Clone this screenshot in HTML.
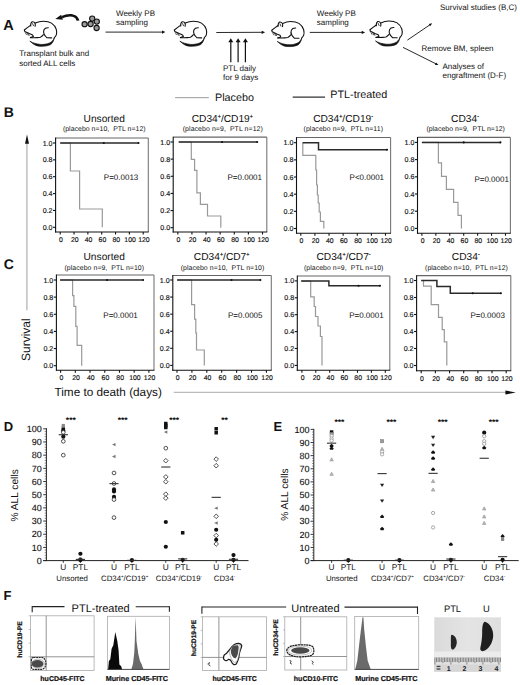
<!DOCTYPE html>
<html><head><meta charset="utf-8"><style>
html,body{margin:0;padding:0;background:#fff;}
svg{display:block;font-family:"Liberation Sans", sans-serif;text-rendering:geometricPrecision;}

</style></head><body>
<svg width="520" height="685" viewBox="0 0 520 685" xml:space="preserve">
<rect width="520" height="685" fill="#fff"/>
<g transform="translate(20 18) scale(1)" fill="none" stroke="#111" stroke-width="1.1" stroke-linecap="round" stroke-linejoin="round">
<path d="M15.3 5.1 C18 3.8 20.5 3.2 23.2 3.2 C27 3.2 29.5 3.8 31.5 5.1 C34 6.8 35.6 8.8 36.2 11.2 C36.8 13.5 36.8 15.5 36.4 16.6 C35.9 18 35.2 18.8 34.3 19.6"/>
<path d="M10.4 7.4 L7.4 9.6 L4.3 12 L4.8 13.4 L7 14.4 L9.3 15.6 L12.6 17 L13.4 18.6 L10.4 19.6"/>
<path d="M10.7 8 C10.6 6 11.2 4.2 12.2 3.7 C13.4 3.6 14.6 4.3 15 5.3 C15.4 6.3 15.4 7.4 15.1 8.3"/>
<path d="M12.6 5.6 L13.5 7.8" stroke-width="0.8"/>
<path d="M5.4 14.8 L6.4 16.6 M7.2 15.2 L8.2 17.2 M8.6 15.8 L9.2 17.4" stroke-width="0.7"/>
<path d="M10.4 19.6 C14 19.8 18 19.6 20.4 19.2 C21.8 18.6 22.6 17.6 23.4 16.6"/>
<path d="M28.3 9.7 C26.2 9.6 24.6 10.4 24 11.8 C23.3 13.4 23.4 15.2 24.3 16.6 C25 17.8 25.9 18.6 26.9 19.8 L31.6 19.9"/>
<path d="M10.2 23.4 C13.5 26.6 16.5 28 19.5 28.2 C24 28.6 28 27.8 30.6 26.6 C32.6 25.2 33.8 22.6 34.4 19.6 C33.2 22.4 31.8 24 29.6 25 C26.5 26.3 23.5 26.6 20.4 26.4 C16.5 26 13.5 25.2 10.2 23.4 Z" fill="#111" stroke-width="0.7"/>
</g>
<g transform="translate(170 18) scale(1)" fill="none" stroke="#111" stroke-width="1.1" stroke-linecap="round" stroke-linejoin="round">
<path d="M15.3 5.1 C18 3.8 20.5 3.2 23.2 3.2 C27 3.2 29.5 3.8 31.5 5.1 C34 6.8 35.6 8.8 36.2 11.2 C36.8 13.5 36.8 15.5 36.4 16.6 C35.9 18 35.2 18.8 34.3 19.6"/>
<path d="M10.4 7.4 L7.4 9.6 L4.3 12 L4.8 13.4 L7 14.4 L9.3 15.6 L12.6 17 L13.4 18.6 L10.4 19.6"/>
<path d="M10.7 8 C10.6 6 11.2 4.2 12.2 3.7 C13.4 3.6 14.6 4.3 15 5.3 C15.4 6.3 15.4 7.4 15.1 8.3"/>
<path d="M12.6 5.6 L13.5 7.8" stroke-width="0.8"/>
<path d="M5.4 14.8 L6.4 16.6 M7.2 15.2 L8.2 17.2 M8.6 15.8 L9.2 17.4" stroke-width="0.7"/>
<path d="M10.4 19.6 C14 19.8 18 19.6 20.4 19.2 C21.8 18.6 22.6 17.6 23.4 16.6"/>
<path d="M28.3 9.7 C26.2 9.6 24.6 10.4 24 11.8 C23.3 13.4 23.4 15.2 24.3 16.6 C25 17.8 25.9 18.6 26.9 19.8 L31.6 19.9"/>
<path d="M10.2 23.4 C13.5 26.6 16.5 28 19.5 28.2 C24 28.6 28 27.8 30.6 26.6 C32.6 25.2 33.8 22.6 34.4 19.6 C33.2 22.4 31.8 24 29.6 25 C26.5 26.3 23.5 26.6 20.4 26.4 C16.5 26 13.5 25.2 10.2 23.4 Z" fill="#111" stroke-width="0.7"/>
</g>
<g transform="translate(267.4 18.3) scale(1)" fill="none" stroke="#111" stroke-width="1.1" stroke-linecap="round" stroke-linejoin="round">
<path d="M15.3 5.1 C18 3.8 20.5 3.2 23.2 3.2 C27 3.2 29.5 3.8 31.5 5.1 C34 6.8 35.6 8.8 36.2 11.2 C36.8 13.5 36.8 15.5 36.4 16.6 C35.9 18 35.2 18.8 34.3 19.6"/>
<path d="M10.4 7.4 L7.4 9.6 L4.3 12 L4.8 13.4 L7 14.4 L9.3 15.6 L12.6 17 L13.4 18.6 L10.4 19.6"/>
<path d="M10.7 8 C10.6 6 11.2 4.2 12.2 3.7 C13.4 3.6 14.6 4.3 15 5.3 C15.4 6.3 15.4 7.4 15.1 8.3"/>
<path d="M12.6 5.6 L13.5 7.8" stroke-width="0.8"/>
<path d="M5.4 14.8 L6.4 16.6 M7.2 15.2 L8.2 17.2 M8.6 15.8 L9.2 17.4" stroke-width="0.7"/>
<path d="M10.4 19.6 C14 19.8 18 19.6 20.4 19.2 C21.8 18.6 22.6 17.6 23.4 16.6"/>
<path d="M28.3 9.7 C26.2 9.6 24.6 10.4 24 11.8 C23.3 13.4 23.4 15.2 24.3 16.6 C25 17.8 25.9 18.6 26.9 19.8 L31.6 19.9"/>
<path d="M10.2 23.4 C13.5 26.6 16.5 28 19.5 28.2 C24 28.6 28 27.8 30.6 26.6 C32.6 25.2 33.8 22.6 34.4 19.6 C33.2 22.4 31.8 24 29.6 25 C26.5 26.3 23.5 26.6 20.4 26.4 C16.5 26 13.5 25.2 10.2 23.4 Z" fill="#111" stroke-width="0.7"/>
</g>
<g transform="translate(365.6 17.8) scale(1)" fill="none" stroke="#111" stroke-width="1.1" stroke-linecap="round" stroke-linejoin="round">
<path d="M15.3 5.1 C18 3.8 20.5 3.2 23.2 3.2 C27 3.2 29.5 3.8 31.5 5.1 C34 6.8 35.6 8.8 36.2 11.2 C36.8 13.5 36.8 15.5 36.4 16.6 C35.9 18 35.2 18.8 34.3 19.6"/>
<path d="M10.4 7.4 L7.4 9.6 L4.3 12 L4.8 13.4 L7 14.4 L9.3 15.6 L12.6 17 L13.4 18.6 L10.4 19.6"/>
<path d="M10.7 8 C10.6 6 11.2 4.2 12.2 3.7 C13.4 3.6 14.6 4.3 15 5.3 C15.4 6.3 15.4 7.4 15.1 8.3"/>
<path d="M12.6 5.6 L13.5 7.8" stroke-width="0.8"/>
<path d="M5.4 14.8 L6.4 16.6 M7.2 15.2 L8.2 17.2 M8.6 15.8 L9.2 17.4" stroke-width="0.7"/>
<path d="M10.4 19.6 C14 19.8 18 19.6 20.4 19.2 C21.8 18.6 22.6 17.6 23.4 16.6"/>
<path d="M28.3 9.7 C26.2 9.6 24.6 10.4 24 11.8 C23.3 13.4 23.4 15.2 24.3 16.6 C25 17.8 25.9 18.6 26.9 19.8 L31.6 19.9"/>
<path d="M10.2 23.4 C13.5 26.6 16.5 28 19.5 28.2 C24 28.6 28 27.8 30.6 26.6 C32.6 25.2 33.8 22.6 34.4 19.6 C33.2 22.4 31.8 24 29.6 25 C26.5 26.3 23.5 26.6 20.4 26.4 C16.5 26 13.5 25.2 10.2 23.4 Z" fill="#111" stroke-width="0.7"/>
</g>
<text x="3.2" y="29.6" font-size="14.5" text-anchor="start" font-weight="bold" fill="#111">A</text>
<path d="M79.4 20.6 C77.8 13.4 69 12.4 61.5 16 L62.6 18.6 C69 15.4 75.4 16 76.6 20.8 Z" stroke="none" stroke-width="1" fill="#111"/>
<polygon points="55.3,18.9 61.2,14.8 62.8,19.8" fill="#111"/>
<circle cx="92.2" cy="18.6" r="2.6" fill="#9a9a9a" stroke="#111" stroke-width="1.1"/>
<circle cx="96.8" cy="21.6" r="2.6" fill="#9a9a9a" stroke="#111" stroke-width="1.1"/>
<circle cx="84.6" cy="24.2" r="2.6" fill="#9a9a9a" stroke="#111" stroke-width="1.1"/>
<circle cx="90.6" cy="24" r="2.6" fill="#9a9a9a" stroke="#111" stroke-width="1.1"/>
<circle cx="96.6" cy="28" r="2.6" fill="#9a9a9a" stroke="#111" stroke-width="1.1"/>
<text x="19.2" y="56.4" font-size="8" text-anchor="start" fill="#111">Transplant bulk and</text>
<text x="19.2" y="66.4" font-size="8" text-anchor="start" fill="#111">sorted ALL cells</text>
<text x="116" y="16" font-size="8" text-anchor="start" fill="#111">Weekly PB</text>
<text x="116" y="25.3" font-size="8" text-anchor="start" fill="#111">sampling</text>
<line x1="105.5" y1="32.1" x2="163" y2="32.1" stroke="#111" stroke-width="0.9"/>
<polygon points="165.4,32.1 162,30.5 162,33.7" fill="#111"/>
<line x1="216.3" y1="32.5" x2="262.5" y2="32.3" stroke="#111" stroke-width="0.9"/>
<polygon points="265.1,32.3 261.7,30.7 261.7,33.9" fill="#111"/>
<line x1="230.8" y1="41" x2="230.8" y2="62.3" stroke="#111" stroke-width="1.2"/>
<polygon points="230.8,38.3 228.3,42.2 233.3,42.2" fill="#111"/>
<line x1="238.1" y1="41" x2="238.1" y2="62.3" stroke="#111" stroke-width="1.2"/>
<polygon points="238.1,38.3 235.6,42.2 240.6,42.2" fill="#111"/>
<line x1="245.4" y1="41" x2="245.4" y2="62.3" stroke="#111" stroke-width="1.2"/>
<polygon points="245.4,38.3 242.9,42.2 247.9,42.2" fill="#111"/>
<text x="223" y="70.5" font-size="8" text-anchor="start" fill="#111">PTL daily</text>
<text x="223" y="79.7" font-size="8" text-anchor="start" fill="#111">for 9 days</text>
<text x="316.8" y="15.7" font-size="8" text-anchor="start" fill="#111">Weekly PB</text>
<text x="316.8" y="24.9" font-size="8" text-anchor="start" fill="#111">sampling</text>
<line x1="309.8" y1="32.4" x2="362.5" y2="32.4" stroke="#111" stroke-width="0.9"/>
<polygon points="365.1,32.4 361.7,30.8 361.7,34" fill="#111"/>
<text x="440" y="9.6" font-size="8" text-anchor="start" fill="#111">Survival studies (B,C)</text>
<line x1="407.4" y1="40.1" x2="430.5" y2="24.4" stroke="#111" stroke-width="0.9"/>
<polygon points="432.2,23.3 430.2,26.2 428.8,24" fill="#111"/>
<text x="421.5" y="51.4" font-size="8" text-anchor="start" fill="#111">Remove BM, spleen</text>
<line x1="403" y1="47.4" x2="436.5" y2="64.1" stroke="#111" stroke-width="0.9"/>
<polygon points="438.4,65.1 434.9,64.9 436.1,62.5" fill="#111"/>
<text x="442.5" y="69" font-size="8" text-anchor="start" fill="#111">Analyses of</text>
<text x="442.5" y="78.2" font-size="8" text-anchor="start" fill="#111">engraftment (D-F)</text>
<line x1="175.1" y1="97.7" x2="208.8" y2="97.7" stroke="#999" stroke-width="1"/>
<text x="215" y="100.7" font-size="10.8" text-anchor="start" fill="#111">Placebo</text>
<line x1="292.7" y1="97.1" x2="325" y2="97.1" stroke="#333" stroke-width="1.1"/>
<text x="330.3" y="98.2" font-size="10.8" text-anchor="start" fill="#111">PTL-treated</text>
<text x="3.8" y="117.3" font-size="14" text-anchor="start" font-weight="bold" fill="#111">B</text>
<text x="3.8" y="269.1" font-size="14" text-anchor="start" font-weight="bold" fill="#111">C</text>
<line x1="26.9" y1="142" x2="26.9" y2="310.3" stroke="#bbb" stroke-width="1.4"/>
<polygon points="27,134.6 25,143.8 29,143.8" fill="#111"/>
<text x="0" y="0" font-size="12" text-anchor="middle" fill="#111" transform="translate(30.4 339.7) rotate(-90)">Survival</text>
<text x="54.5" y="396.2" font-size="11.75" text-anchor="start" fill="#111">Time to death (days)</text>
<line x1="173.8" y1="392.4" x2="506" y2="392.4" stroke="#bbb" stroke-width="1.4"/>
<polygon points="515.8,392.5 505.4,390.4 505.4,394.6" fill="#111"/>
<line x1="55.6" y1="138" x2="148.3" y2="138" stroke="#666" stroke-width="1.1"/>
<line x1="148.3" y1="138" x2="148.3" y2="232" stroke="#777" stroke-width="1.1"/>
<line x1="55.6" y1="137.6" x2="55.6" y2="232.5" stroke="#111" stroke-width="1.1"/>
<line x1="55.1" y1="232" x2="148.7" y2="232" stroke="#111" stroke-width="1.1"/>
<line x1="53" y1="227.3" x2="55.6" y2="227.3" stroke="#111" stroke-width="1.1"/>
<text x="52.5" y="229.8" font-size="7.1" text-anchor="end" fill="#111" stroke="#111" stroke-width="0.15">0.0</text>
<line x1="53" y1="210.44" x2="55.6" y2="210.44" stroke="#111" stroke-width="1.1"/>
<text x="52.5" y="212.94" font-size="7.1" text-anchor="end" fill="#111" stroke="#111" stroke-width="0.15">0.2</text>
<line x1="53" y1="193.58" x2="55.6" y2="193.58" stroke="#111" stroke-width="1.1"/>
<text x="52.5" y="196.08" font-size="7.1" text-anchor="end" fill="#111" stroke="#111" stroke-width="0.15">0.4</text>
<line x1="53" y1="176.72" x2="55.6" y2="176.72" stroke="#111" stroke-width="1.1"/>
<text x="52.5" y="179.22" font-size="7.1" text-anchor="end" fill="#111" stroke="#111" stroke-width="0.15">0.6</text>
<line x1="53" y1="159.86" x2="55.6" y2="159.86" stroke="#111" stroke-width="1.1"/>
<text x="52.5" y="162.36" font-size="7.1" text-anchor="end" fill="#111" stroke="#111" stroke-width="0.15">0.8</text>
<line x1="53" y1="143" x2="55.6" y2="143" stroke="#111" stroke-width="1.1"/>
<text x="52.5" y="145.5" font-size="7.1" text-anchor="end" fill="#111" stroke="#111" stroke-width="0.15">1.0</text>
<line x1="60.2" y1="232" x2="60.2" y2="234.5" stroke="#111" stroke-width="1.1"/>
<text x="60.9" y="241.8" font-size="6.9" text-anchor="middle" fill="#111" stroke="#111" stroke-width="0.15">0</text>
<line x1="74.03" y1="232" x2="74.03" y2="234.5" stroke="#111" stroke-width="1.1"/>
<text x="74.73" y="241.8" font-size="6.9" text-anchor="middle" fill="#111" stroke="#111" stroke-width="0.15">20</text>
<line x1="87.87" y1="232" x2="87.87" y2="234.5" stroke="#111" stroke-width="1.1"/>
<text x="88.57" y="241.8" font-size="6.9" text-anchor="middle" fill="#111" stroke="#111" stroke-width="0.15">40</text>
<line x1="101.7" y1="232" x2="101.7" y2="234.5" stroke="#111" stroke-width="1.1"/>
<text x="102.4" y="241.8" font-size="6.9" text-anchor="middle" fill="#111" stroke="#111" stroke-width="0.15">60</text>
<line x1="115.53" y1="232" x2="115.53" y2="234.5" stroke="#111" stroke-width="1.1"/>
<text x="116.23" y="241.8" font-size="6.9" text-anchor="middle" fill="#111" stroke="#111" stroke-width="0.15">80</text>
<line x1="129.37" y1="232" x2="129.37" y2="234.5" stroke="#111" stroke-width="1.1"/>
<text x="130.07" y="241.8" font-size="6.9" text-anchor="middle" fill="#111" stroke="#111" stroke-width="0.15">100</text>
<line x1="143.2" y1="232" x2="143.2" y2="234.5" stroke="#111" stroke-width="1.1"/>
<text x="143.9" y="241.8" font-size="6.9" text-anchor="middle" fill="#111" stroke="#111" stroke-width="0.15">120</text>
<polyline points="60.2,143 70.4,143 70.4,171 79.6,171 79.6,209 102.3,209 102.3,227.3" stroke="#999" stroke-width="1.2" fill="none"/>
<polyline points="60.2,143 138.5,143" stroke="#2a2a2a" stroke-width="1.5" fill="none"/>
<circle cx="103.8" cy="143" r="1.05" fill="#111"/>
<circle cx="138.5" cy="143" r="1.05" fill="#111"/>
<text x="104.25" y="121.8" font-size="10.2" text-anchor="middle" fill="#111">Unsorted</text>
<text x="104.25" y="130.9" font-size="6.9" text-anchor="middle" fill="#111" textLength="82.7" lengthAdjust="spacing">(placebo n=10,&#160; PTL n=12)</text>
<text x="103.8" y="179.55" font-size="8" text-anchor="start" fill="#111">P=0.0013</text>
<line x1="173.2" y1="137.1" x2="266.8" y2="137.1" stroke="#666" stroke-width="1.1"/>
<line x1="266.8" y1="137.1" x2="266.8" y2="232" stroke="#777" stroke-width="1.1"/>
<line x1="173.2" y1="136.7" x2="173.2" y2="232.5" stroke="#111" stroke-width="1.1"/>
<line x1="172.7" y1="232" x2="267.2" y2="232" stroke="#111" stroke-width="1.1"/>
<line x1="170.6" y1="227.7" x2="173.2" y2="227.7" stroke="#111" stroke-width="1.1"/>
<text x="170.1" y="230.2" font-size="7.1" text-anchor="end" fill="#111" stroke="#111" stroke-width="0.15">0.0</text>
<line x1="170.6" y1="210.56" x2="173.2" y2="210.56" stroke="#111" stroke-width="1.1"/>
<text x="170.1" y="213.06" font-size="7.1" text-anchor="end" fill="#111" stroke="#111" stroke-width="0.15">0.2</text>
<line x1="170.6" y1="193.42" x2="173.2" y2="193.42" stroke="#111" stroke-width="1.1"/>
<text x="170.1" y="195.92" font-size="7.1" text-anchor="end" fill="#111" stroke="#111" stroke-width="0.15">0.4</text>
<line x1="170.6" y1="176.28" x2="173.2" y2="176.28" stroke="#111" stroke-width="1.1"/>
<text x="170.1" y="178.78" font-size="7.1" text-anchor="end" fill="#111" stroke="#111" stroke-width="0.15">0.6</text>
<line x1="170.6" y1="159.14" x2="173.2" y2="159.14" stroke="#111" stroke-width="1.1"/>
<text x="170.1" y="161.64" font-size="7.1" text-anchor="end" fill="#111" stroke="#111" stroke-width="0.15">0.8</text>
<line x1="170.6" y1="142" x2="173.2" y2="142" stroke="#111" stroke-width="1.1"/>
<text x="170.1" y="144.5" font-size="7.1" text-anchor="end" fill="#111" stroke="#111" stroke-width="0.15">1.0</text>
<line x1="177.8" y1="232" x2="177.8" y2="234.5" stroke="#111" stroke-width="1.1"/>
<text x="178.5" y="241.8" font-size="6.9" text-anchor="middle" fill="#111" stroke="#111" stroke-width="0.15">0</text>
<line x1="191.92" y1="232" x2="191.92" y2="234.5" stroke="#111" stroke-width="1.1"/>
<text x="192.62" y="241.8" font-size="6.9" text-anchor="middle" fill="#111" stroke="#111" stroke-width="0.15">20</text>
<line x1="206.03" y1="232" x2="206.03" y2="234.5" stroke="#111" stroke-width="1.1"/>
<text x="206.73" y="241.8" font-size="6.9" text-anchor="middle" fill="#111" stroke="#111" stroke-width="0.15">40</text>
<line x1="220.15" y1="232" x2="220.15" y2="234.5" stroke="#111" stroke-width="1.1"/>
<text x="220.85" y="241.8" font-size="6.9" text-anchor="middle" fill="#111" stroke="#111" stroke-width="0.15">60</text>
<line x1="234.27" y1="232" x2="234.27" y2="234.5" stroke="#111" stroke-width="1.1"/>
<text x="234.97" y="241.8" font-size="6.9" text-anchor="middle" fill="#111" stroke="#111" stroke-width="0.15">80</text>
<line x1="248.38" y1="232" x2="248.38" y2="234.5" stroke="#111" stroke-width="1.1"/>
<text x="249.08" y="241.8" font-size="6.9" text-anchor="middle" fill="#111" stroke="#111" stroke-width="0.15">100</text>
<line x1="262.5" y1="232" x2="262.5" y2="234.5" stroke="#111" stroke-width="1.1"/>
<text x="263.2" y="241.8" font-size="6.9" text-anchor="middle" fill="#111" stroke="#111" stroke-width="0.15">120</text>
<polyline points="178.7,142 191.3,142 191.3,159.4 194.6,159.4 194.6,170.4 196.9,170.4 196.9,192.9 200.4,192.9 200.4,204.4 207.5,204.4 207.5,216 220.8,216 220.8,227.7" stroke="#999" stroke-width="1.2" fill="none"/>
<polyline points="178.7,142 257.2,142" stroke="#2a2a2a" stroke-width="1.5" fill="none"/>
<circle cx="222" cy="142" r="1.05" fill="#111"/>
<circle cx="257.2" cy="142" r="1.05" fill="#111"/>
<text x="222.3" y="121.8" font-size="10.2" text-anchor="middle" fill="#111">CD34<tspan font-size="5.4" dy="-3.5" stroke="#111" stroke-width="0.2">+</tspan><tspan dy="3.5">/CD19</tspan><tspan font-size="5.4" dy="-3.5" stroke="#111" stroke-width="0.2">+</tspan></text>
<text x="222.75" y="130.9" font-size="6.9" text-anchor="middle" fill="#111" textLength="80.1" lengthAdjust="spacing">(placebo n=9,&#160; PTL n=12)</text>
<text x="227.5" y="179.85" font-size="8" text-anchor="start" fill="#111">P=0.0001</text>
<line x1="296.5" y1="137.5" x2="390.6" y2="137.5" stroke="#666" stroke-width="1.1"/>
<line x1="390.6" y1="137.5" x2="390.6" y2="233.2" stroke="#777" stroke-width="1.1"/>
<line x1="296.5" y1="137.1" x2="296.5" y2="233.7" stroke="#111" stroke-width="1.1"/>
<line x1="296" y1="233.2" x2="391" y2="233.2" stroke="#111" stroke-width="1.1"/>
<line x1="293.9" y1="228.5" x2="296.5" y2="228.5" stroke="#111" stroke-width="1.1"/>
<text x="293.4" y="231" font-size="7.1" text-anchor="end" fill="#111" stroke="#111" stroke-width="0.15">0.0</text>
<line x1="293.9" y1="211.34" x2="296.5" y2="211.34" stroke="#111" stroke-width="1.1"/>
<text x="293.4" y="213.84" font-size="7.1" text-anchor="end" fill="#111" stroke="#111" stroke-width="0.15">0.2</text>
<line x1="293.9" y1="194.18" x2="296.5" y2="194.18" stroke="#111" stroke-width="1.1"/>
<text x="293.4" y="196.68" font-size="7.1" text-anchor="end" fill="#111" stroke="#111" stroke-width="0.15">0.4</text>
<line x1="293.9" y1="177.02" x2="296.5" y2="177.02" stroke="#111" stroke-width="1.1"/>
<text x="293.4" y="179.52" font-size="7.1" text-anchor="end" fill="#111" stroke="#111" stroke-width="0.15">0.6</text>
<line x1="293.9" y1="159.86" x2="296.5" y2="159.86" stroke="#111" stroke-width="1.1"/>
<text x="293.4" y="162.36" font-size="7.1" text-anchor="end" fill="#111" stroke="#111" stroke-width="0.15">0.8</text>
<line x1="293.9" y1="142.7" x2="296.5" y2="142.7" stroke="#111" stroke-width="1.1"/>
<text x="293.4" y="145.2" font-size="7.1" text-anchor="end" fill="#111" stroke="#111" stroke-width="0.15">1.0</text>
<line x1="300.8" y1="233.2" x2="300.8" y2="235.7" stroke="#111" stroke-width="1.1"/>
<text x="301.5" y="243" font-size="6.9" text-anchor="middle" fill="#111" stroke="#111" stroke-width="0.15">0</text>
<line x1="314.92" y1="233.2" x2="314.92" y2="235.7" stroke="#111" stroke-width="1.1"/>
<text x="315.62" y="243" font-size="6.9" text-anchor="middle" fill="#111" stroke="#111" stroke-width="0.15">20</text>
<line x1="329.03" y1="233.2" x2="329.03" y2="235.7" stroke="#111" stroke-width="1.1"/>
<text x="329.73" y="243" font-size="6.9" text-anchor="middle" fill="#111" stroke="#111" stroke-width="0.15">40</text>
<line x1="343.15" y1="233.2" x2="343.15" y2="235.7" stroke="#111" stroke-width="1.1"/>
<text x="343.85" y="243" font-size="6.9" text-anchor="middle" fill="#111" stroke="#111" stroke-width="0.15">60</text>
<line x1="357.27" y1="233.2" x2="357.27" y2="235.7" stroke="#111" stroke-width="1.1"/>
<text x="357.97" y="243" font-size="6.9" text-anchor="middle" fill="#111" stroke="#111" stroke-width="0.15">80</text>
<line x1="371.38" y1="233.2" x2="371.38" y2="235.7" stroke="#111" stroke-width="1.1"/>
<text x="372.08" y="243" font-size="6.9" text-anchor="middle" fill="#111" stroke="#111" stroke-width="0.15">100</text>
<line x1="385.5" y1="233.2" x2="385.5" y2="235.7" stroke="#111" stroke-width="1.1"/>
<text x="386.2" y="243" font-size="6.9" text-anchor="middle" fill="#111" stroke="#111" stroke-width="0.15">120</text>
<polyline points="302.7,142.7 302.8,142.7 302.8,155.4 315.8,155.4 315.8,170 316.6,170 316.6,185 317.4,185 317.4,195 318.2,195 318.2,203 319.2,203 319.2,212 320.4,212 320.4,221.3 323.8,221.3 323.8,228.5" stroke="#999" stroke-width="1.2" fill="none"/>
<polyline points="302.7,142.7 318.5,142.7 318.5,149.8 387,149.8" stroke="#2a2a2a" stroke-width="1.5" fill="none"/>
<circle cx="387" cy="149.8" r="1.05" fill="#111"/>
<text x="343.1" y="121.8" font-size="10.2" text-anchor="middle" fill="#111">CD34<tspan font-size="5.4" dy="-3.5" stroke="#111" stroke-width="0.2">+</tspan><tspan dy="3.5">/CD19</tspan><tspan font-size="5.4" dy="-3.5" stroke="#111" stroke-width="0.2">-</tspan></text>
<text x="343.25" y="130.9" font-size="6.9" text-anchor="middle" fill="#111" textLength="79.5" lengthAdjust="spacing">(placebo n=9,&#160; PTL n=11)</text>
<text x="349.6" y="179.95" font-size="8" text-anchor="start" fill="#111">P&lt;0.0001</text>
<line x1="417.5" y1="137.4" x2="510.4" y2="137.4" stroke="#666" stroke-width="1.1"/>
<line x1="510.4" y1="137.4" x2="510.4" y2="233.2" stroke="#777" stroke-width="1.1"/>
<line x1="417.5" y1="137" x2="417.5" y2="233.7" stroke="#111" stroke-width="1.1"/>
<line x1="417" y1="233.2" x2="510.8" y2="233.2" stroke="#111" stroke-width="1.1"/>
<line x1="414.9" y1="228.4" x2="417.5" y2="228.4" stroke="#111" stroke-width="1.1"/>
<text x="414.4" y="230.9" font-size="7.1" text-anchor="end" fill="#111" stroke="#111" stroke-width="0.15">0.0</text>
<line x1="414.9" y1="211.2" x2="417.5" y2="211.2" stroke="#111" stroke-width="1.1"/>
<text x="414.4" y="213.7" font-size="7.1" text-anchor="end" fill="#111" stroke="#111" stroke-width="0.15">0.2</text>
<line x1="414.9" y1="194" x2="417.5" y2="194" stroke="#111" stroke-width="1.1"/>
<text x="414.4" y="196.5" font-size="7.1" text-anchor="end" fill="#111" stroke="#111" stroke-width="0.15">0.4</text>
<line x1="414.9" y1="176.8" x2="417.5" y2="176.8" stroke="#111" stroke-width="1.1"/>
<text x="414.4" y="179.3" font-size="7.1" text-anchor="end" fill="#111" stroke="#111" stroke-width="0.15">0.6</text>
<line x1="414.9" y1="159.6" x2="417.5" y2="159.6" stroke="#111" stroke-width="1.1"/>
<text x="414.4" y="162.1" font-size="7.1" text-anchor="end" fill="#111" stroke="#111" stroke-width="0.15">0.8</text>
<line x1="414.9" y1="142.4" x2="417.5" y2="142.4" stroke="#111" stroke-width="1.1"/>
<text x="414.4" y="144.9" font-size="7.1" text-anchor="end" fill="#111" stroke="#111" stroke-width="0.15">1.0</text>
<line x1="421.9" y1="233.2" x2="421.9" y2="235.7" stroke="#111" stroke-width="1.1"/>
<text x="422.6" y="243" font-size="6.9" text-anchor="middle" fill="#111" stroke="#111" stroke-width="0.15">0</text>
<line x1="435.83" y1="233.2" x2="435.83" y2="235.7" stroke="#111" stroke-width="1.1"/>
<text x="436.53" y="243" font-size="6.9" text-anchor="middle" fill="#111" stroke="#111" stroke-width="0.15">20</text>
<line x1="449.77" y1="233.2" x2="449.77" y2="235.7" stroke="#111" stroke-width="1.1"/>
<text x="450.47" y="243" font-size="6.9" text-anchor="middle" fill="#111" stroke="#111" stroke-width="0.15">40</text>
<line x1="463.7" y1="233.2" x2="463.7" y2="235.7" stroke="#111" stroke-width="1.1"/>
<text x="464.4" y="243" font-size="6.9" text-anchor="middle" fill="#111" stroke="#111" stroke-width="0.15">60</text>
<line x1="477.63" y1="233.2" x2="477.63" y2="235.7" stroke="#111" stroke-width="1.1"/>
<text x="478.33" y="243" font-size="6.9" text-anchor="middle" fill="#111" stroke="#111" stroke-width="0.15">80</text>
<line x1="491.57" y1="233.2" x2="491.57" y2="235.7" stroke="#111" stroke-width="1.1"/>
<text x="492.27" y="243" font-size="6.9" text-anchor="middle" fill="#111" stroke="#111" stroke-width="0.15">100</text>
<line x1="505.5" y1="233.2" x2="505.5" y2="235.7" stroke="#111" stroke-width="1.1"/>
<text x="506.2" y="243" font-size="6.9" text-anchor="middle" fill="#111" stroke="#111" stroke-width="0.15">120</text>
<polyline points="421.9,142.4 438.4,142.4 438.4,162.9 441.5,162.9 441.5,176.4 446.4,176.4 446.4,189.4 453.6,189.4 453.6,202.4 458,202.4 458,215.4 461.4,215.4 461.4,228.4" stroke="#999" stroke-width="1.2" fill="none"/>
<polyline points="421.9,142.4 500.4,142.4" stroke="#2a2a2a" stroke-width="1.5" fill="none"/>
<circle cx="463.7" cy="142.4" r="1.05" fill="#111"/>
<circle cx="500.4" cy="142.4" r="1.05" fill="#111"/>
<text x="465" y="121.8" font-size="10.2" text-anchor="middle" fill="#111">CD34<tspan font-size="5.4" dy="-3.5" stroke="#111" stroke-width="0.2">-</tspan></text>
<text x="465.65" y="130.9" font-size="6.9" text-anchor="middle" fill="#111" textLength="78.5" lengthAdjust="spacing">(placebo n=9,&#160; PTL n=12)</text>
<text x="474.4" y="182.05" font-size="8" text-anchor="start" fill="#111">P=0.0001</text>
<line x1="56.4" y1="275" x2="154" y2="275" stroke="#666" stroke-width="1.1"/>
<line x1="154" y1="275" x2="154" y2="370.2" stroke="#777" stroke-width="1.1"/>
<line x1="56.4" y1="274.6" x2="56.4" y2="370.7" stroke="#111" stroke-width="1.1"/>
<line x1="55.9" y1="370.2" x2="154.4" y2="370.2" stroke="#111" stroke-width="1.1"/>
<line x1="53.8" y1="365.7" x2="56.4" y2="365.7" stroke="#111" stroke-width="1.1"/>
<text x="53.3" y="368.2" font-size="7.1" text-anchor="end" fill="#111" stroke="#111" stroke-width="0.15">0.0</text>
<line x1="53.8" y1="348.56" x2="56.4" y2="348.56" stroke="#111" stroke-width="1.1"/>
<text x="53.3" y="351.06" font-size="7.1" text-anchor="end" fill="#111" stroke="#111" stroke-width="0.15">0.2</text>
<line x1="53.8" y1="331.42" x2="56.4" y2="331.42" stroke="#111" stroke-width="1.1"/>
<text x="53.3" y="333.92" font-size="7.1" text-anchor="end" fill="#111" stroke="#111" stroke-width="0.15">0.4</text>
<line x1="53.8" y1="314.28" x2="56.4" y2="314.28" stroke="#111" stroke-width="1.1"/>
<text x="53.3" y="316.78" font-size="7.1" text-anchor="end" fill="#111" stroke="#111" stroke-width="0.15">0.6</text>
<line x1="53.8" y1="297.14" x2="56.4" y2="297.14" stroke="#111" stroke-width="1.1"/>
<text x="53.3" y="299.64" font-size="7.1" text-anchor="end" fill="#111" stroke="#111" stroke-width="0.15">0.8</text>
<line x1="53.8" y1="280" x2="56.4" y2="280" stroke="#111" stroke-width="1.1"/>
<text x="53.3" y="282.5" font-size="7.1" text-anchor="end" fill="#111" stroke="#111" stroke-width="0.15">1.0</text>
<line x1="60.6" y1="370.2" x2="60.6" y2="372.7" stroke="#111" stroke-width="1.1"/>
<text x="61.3" y="380" font-size="6.9" text-anchor="middle" fill="#111" stroke="#111" stroke-width="0.15">0</text>
<line x1="75.32" y1="370.2" x2="75.32" y2="372.7" stroke="#111" stroke-width="1.1"/>
<text x="76.02" y="380" font-size="6.9" text-anchor="middle" fill="#111" stroke="#111" stroke-width="0.15">20</text>
<line x1="90.03" y1="370.2" x2="90.03" y2="372.7" stroke="#111" stroke-width="1.1"/>
<text x="90.73" y="380" font-size="6.9" text-anchor="middle" fill="#111" stroke="#111" stroke-width="0.15">40</text>
<line x1="104.75" y1="370.2" x2="104.75" y2="372.7" stroke="#111" stroke-width="1.1"/>
<text x="105.45" y="380" font-size="6.9" text-anchor="middle" fill="#111" stroke="#111" stroke-width="0.15">60</text>
<line x1="119.47" y1="370.2" x2="119.47" y2="372.7" stroke="#111" stroke-width="1.1"/>
<text x="120.17" y="380" font-size="6.9" text-anchor="middle" fill="#111" stroke="#111" stroke-width="0.15">80</text>
<line x1="134.18" y1="370.2" x2="134.18" y2="372.7" stroke="#111" stroke-width="1.1"/>
<text x="134.88" y="380" font-size="6.9" text-anchor="middle" fill="#111" stroke="#111" stroke-width="0.15">100</text>
<line x1="148.9" y1="370.2" x2="148.9" y2="372.7" stroke="#111" stroke-width="1.1"/>
<text x="149.6" y="380" font-size="6.9" text-anchor="middle" fill="#111" stroke="#111" stroke-width="0.15">120</text>
<polyline points="60.1,280 72.6,280 72.6,295.7 73.9,295.7 73.9,306.3 75.8,306.3 75.8,326.3 77.1,326.3 77.1,345.4 81.7,345.4 81.7,365.7" stroke="#999" stroke-width="1.2" fill="none"/>
<polyline points="60.1,280 143.1,280" stroke="#2a2a2a" stroke-width="1.5" fill="none"/>
<circle cx="107.1" cy="280" r="1.05" fill="#111"/>
<circle cx="143.1" cy="280" r="1.05" fill="#111"/>
<text x="104.2" y="259.9" font-size="10.2" text-anchor="middle" fill="#111">Unsorted</text>
<text x="104.25" y="269.7" font-size="6.9" text-anchor="middle" fill="#111" textLength="79.5" lengthAdjust="spacing">(placebo n=9,&#160; PTL n=10)</text>
<text x="103.3" y="317.55" font-size="8" text-anchor="start" fill="#111">P=0.0001</text>
<line x1="172.8" y1="275.5" x2="271.3" y2="275.5" stroke="#666" stroke-width="1.1"/>
<line x1="271.3" y1="275.5" x2="271.3" y2="370.2" stroke="#777" stroke-width="1.1"/>
<line x1="172.8" y1="275.1" x2="172.8" y2="370.7" stroke="#111" stroke-width="1.1"/>
<line x1="172.3" y1="370.2" x2="271.7" y2="370.2" stroke="#111" stroke-width="1.1"/>
<line x1="170.2" y1="365.4" x2="172.8" y2="365.4" stroke="#111" stroke-width="1.1"/>
<text x="169.7" y="367.9" font-size="7.1" text-anchor="end" fill="#111" stroke="#111" stroke-width="0.15">0.0</text>
<line x1="170.2" y1="348.32" x2="172.8" y2="348.32" stroke="#111" stroke-width="1.1"/>
<text x="169.7" y="350.82" font-size="7.1" text-anchor="end" fill="#111" stroke="#111" stroke-width="0.15">0.2</text>
<line x1="170.2" y1="331.24" x2="172.8" y2="331.24" stroke="#111" stroke-width="1.1"/>
<text x="169.7" y="333.74" font-size="7.1" text-anchor="end" fill="#111" stroke="#111" stroke-width="0.15">0.4</text>
<line x1="170.2" y1="314.16" x2="172.8" y2="314.16" stroke="#111" stroke-width="1.1"/>
<text x="169.7" y="316.66" font-size="7.1" text-anchor="end" fill="#111" stroke="#111" stroke-width="0.15">0.6</text>
<line x1="170.2" y1="297.08" x2="172.8" y2="297.08" stroke="#111" stroke-width="1.1"/>
<text x="169.7" y="299.58" font-size="7.1" text-anchor="end" fill="#111" stroke="#111" stroke-width="0.15">0.8</text>
<line x1="170.2" y1="280" x2="172.8" y2="280" stroke="#111" stroke-width="1.1"/>
<text x="169.7" y="282.5" font-size="7.1" text-anchor="end" fill="#111" stroke="#111" stroke-width="0.15">1.0</text>
<line x1="177" y1="370.2" x2="177" y2="372.7" stroke="#111" stroke-width="1.1"/>
<text x="177.7" y="380" font-size="6.9" text-anchor="middle" fill="#111" stroke="#111" stroke-width="0.15">0</text>
<line x1="191.9" y1="370.2" x2="191.9" y2="372.7" stroke="#111" stroke-width="1.1"/>
<text x="192.6" y="380" font-size="6.9" text-anchor="middle" fill="#111" stroke="#111" stroke-width="0.15">20</text>
<line x1="206.8" y1="370.2" x2="206.8" y2="372.7" stroke="#111" stroke-width="1.1"/>
<text x="207.5" y="380" font-size="6.9" text-anchor="middle" fill="#111" stroke="#111" stroke-width="0.15">40</text>
<line x1="221.7" y1="370.2" x2="221.7" y2="372.7" stroke="#111" stroke-width="1.1"/>
<text x="222.4" y="380" font-size="6.9" text-anchor="middle" fill="#111" stroke="#111" stroke-width="0.15">60</text>
<line x1="236.6" y1="370.2" x2="236.6" y2="372.7" stroke="#111" stroke-width="1.1"/>
<text x="237.3" y="380" font-size="6.9" text-anchor="middle" fill="#111" stroke="#111" stroke-width="0.15">80</text>
<line x1="251.5" y1="370.2" x2="251.5" y2="372.7" stroke="#111" stroke-width="1.1"/>
<text x="252.2" y="380" font-size="6.9" text-anchor="middle" fill="#111" stroke="#111" stroke-width="0.15">100</text>
<line x1="266.4" y1="370.2" x2="266.4" y2="372.7" stroke="#111" stroke-width="1.1"/>
<text x="267.1" y="380" font-size="6.9" text-anchor="middle" fill="#111" stroke="#111" stroke-width="0.15">120</text>
<polyline points="177.1,280 191.6,280 191.6,304.7 194.6,304.7 194.6,319.2 195.8,319.2 195.8,333 196.5,333 196.5,350 204.3,350 204.3,365.4" stroke="#999" stroke-width="1.2" fill="none"/>
<polyline points="177.1,280 260.4,280" stroke="#2a2a2a" stroke-width="1.5" fill="none"/>
<circle cx="231.5" cy="280" r="1.05" fill="#111"/>
<circle cx="260.4" cy="280" r="1.05" fill="#111"/>
<text x="221.65" y="259.9" font-size="10.2" text-anchor="middle" fill="#111">CD34<tspan font-size="5.4" dy="-3.5" stroke="#111" stroke-width="0.2">+</tspan><tspan dy="3.5">/CD7</tspan><tspan font-size="5.4" dy="-3.5" stroke="#111" stroke-width="0.2">+</tspan></text>
<text x="222.5" y="269.7" font-size="6.9" text-anchor="middle" fill="#111" textLength="83.6" lengthAdjust="spacing">(placebo n=10,&#160; PTL n=10)</text>
<text x="228" y="317.95" font-size="8" text-anchor="start" fill="#111">P=0.0005</text>
<line x1="297.3" y1="276" x2="389.8" y2="276" stroke="#666" stroke-width="1.1"/>
<line x1="389.8" y1="276" x2="389.8" y2="370.3" stroke="#777" stroke-width="1.1"/>
<line x1="297.3" y1="275.6" x2="297.3" y2="370.8" stroke="#111" stroke-width="1.1"/>
<line x1="296.8" y1="370.3" x2="390.2" y2="370.3" stroke="#111" stroke-width="1.1"/>
<line x1="294.7" y1="365.4" x2="297.3" y2="365.4" stroke="#111" stroke-width="1.1"/>
<text x="294.2" y="367.9" font-size="7.1" text-anchor="end" fill="#111" stroke="#111" stroke-width="0.15">0.0</text>
<line x1="294.7" y1="348.5" x2="297.3" y2="348.5" stroke="#111" stroke-width="1.1"/>
<text x="294.2" y="351" font-size="7.1" text-anchor="end" fill="#111" stroke="#111" stroke-width="0.15">0.2</text>
<line x1="294.7" y1="331.6" x2="297.3" y2="331.6" stroke="#111" stroke-width="1.1"/>
<text x="294.2" y="334.1" font-size="7.1" text-anchor="end" fill="#111" stroke="#111" stroke-width="0.15">0.4</text>
<line x1="294.7" y1="314.7" x2="297.3" y2="314.7" stroke="#111" stroke-width="1.1"/>
<text x="294.2" y="317.2" font-size="7.1" text-anchor="end" fill="#111" stroke="#111" stroke-width="0.15">0.6</text>
<line x1="294.7" y1="297.8" x2="297.3" y2="297.8" stroke="#111" stroke-width="1.1"/>
<text x="294.2" y="300.3" font-size="7.1" text-anchor="end" fill="#111" stroke="#111" stroke-width="0.15">0.8</text>
<line x1="294.7" y1="280.9" x2="297.3" y2="280.9" stroke="#111" stroke-width="1.1"/>
<text x="294.2" y="283.4" font-size="7.1" text-anchor="end" fill="#111" stroke="#111" stroke-width="0.15">1.0</text>
<line x1="301.9" y1="370.3" x2="301.9" y2="372.8" stroke="#111" stroke-width="1.1"/>
<text x="302.6" y="380.1" font-size="6.9" text-anchor="middle" fill="#111" stroke="#111" stroke-width="0.15">0</text>
<line x1="315.8" y1="370.3" x2="315.8" y2="372.8" stroke="#111" stroke-width="1.1"/>
<text x="316.5" y="380.1" font-size="6.9" text-anchor="middle" fill="#111" stroke="#111" stroke-width="0.15">20</text>
<line x1="329.7" y1="370.3" x2="329.7" y2="372.8" stroke="#111" stroke-width="1.1"/>
<text x="330.4" y="380.1" font-size="6.9" text-anchor="middle" fill="#111" stroke="#111" stroke-width="0.15">40</text>
<line x1="343.6" y1="370.3" x2="343.6" y2="372.8" stroke="#111" stroke-width="1.1"/>
<text x="344.3" y="380.1" font-size="6.9" text-anchor="middle" fill="#111" stroke="#111" stroke-width="0.15">60</text>
<line x1="357.5" y1="370.3" x2="357.5" y2="372.8" stroke="#111" stroke-width="1.1"/>
<text x="358.2" y="380.1" font-size="6.9" text-anchor="middle" fill="#111" stroke="#111" stroke-width="0.15">80</text>
<line x1="371.4" y1="370.3" x2="371.4" y2="372.8" stroke="#111" stroke-width="1.1"/>
<text x="372.1" y="380.1" font-size="6.9" text-anchor="middle" fill="#111" stroke="#111" stroke-width="0.15">100</text>
<line x1="385.3" y1="370.3" x2="385.3" y2="372.8" stroke="#111" stroke-width="1.1"/>
<text x="386" y="380.1" font-size="6.9" text-anchor="middle" fill="#111" stroke="#111" stroke-width="0.15">120</text>
<polyline points="301.2,281.1 310.7,281.1 310.7,296.8 314.2,296.8 314.2,306.5 315.5,306.5 315.5,316.5 318,316.5 318,326 320.4,326 320.4,336.5 322,336.5 322,365.4" stroke="#999" stroke-width="1.2" fill="none"/>
<polyline points="301.2,281.1 328.9,281.1 328.9,285.8 380,285.8" stroke="#2a2a2a" stroke-width="1.5" fill="none"/>
<circle cx="358.5" cy="285.8" r="1.05" fill="#111"/>
<circle cx="380" cy="285.8" r="1.05" fill="#111"/>
<text x="343.55" y="259.9" font-size="10.2" text-anchor="middle" fill="#111">CD34<tspan font-size="5.4" dy="-3.5" stroke="#111" stroke-width="0.2">+</tspan><tspan dy="3.5">/CD7</tspan><tspan font-size="5.4" dy="-3.5" stroke="#111" stroke-width="0.2">-</tspan></text>
<text x="343.65" y="269.7" font-size="6.9" text-anchor="middle" fill="#111" textLength="79.5" lengthAdjust="spacing">(placebo n=9,&#160; PTL n=10)</text>
<text x="349.2" y="317.95" font-size="8" text-anchor="start" fill="#111">P=0.0001</text>
<line x1="416.6" y1="275.6" x2="510.8" y2="275.6" stroke="#666" stroke-width="1.1"/>
<line x1="510.8" y1="275.6" x2="510.8" y2="370.8" stroke="#777" stroke-width="1.1"/>
<line x1="416.6" y1="275.2" x2="416.6" y2="371.3" stroke="#111" stroke-width="1.1"/>
<line x1="416.1" y1="370.8" x2="511.2" y2="370.8" stroke="#111" stroke-width="1.1"/>
<line x1="414" y1="365.5" x2="416.6" y2="365.5" stroke="#111" stroke-width="1.1"/>
<text x="413.5" y="368" font-size="7.1" text-anchor="end" fill="#111" stroke="#111" stroke-width="0.15">0.0</text>
<line x1="414" y1="348.5" x2="416.6" y2="348.5" stroke="#111" stroke-width="1.1"/>
<text x="413.5" y="351" font-size="7.1" text-anchor="end" fill="#111" stroke="#111" stroke-width="0.15">0.2</text>
<line x1="414" y1="331.5" x2="416.6" y2="331.5" stroke="#111" stroke-width="1.1"/>
<text x="413.5" y="334" font-size="7.1" text-anchor="end" fill="#111" stroke="#111" stroke-width="0.15">0.4</text>
<line x1="414" y1="314.5" x2="416.6" y2="314.5" stroke="#111" stroke-width="1.1"/>
<text x="413.5" y="317" font-size="7.1" text-anchor="end" fill="#111" stroke="#111" stroke-width="0.15">0.6</text>
<line x1="414" y1="297.5" x2="416.6" y2="297.5" stroke="#111" stroke-width="1.1"/>
<text x="413.5" y="300" font-size="7.1" text-anchor="end" fill="#111" stroke="#111" stroke-width="0.15">0.8</text>
<line x1="414" y1="280.5" x2="416.6" y2="280.5" stroke="#111" stroke-width="1.1"/>
<text x="413.5" y="283" font-size="7.1" text-anchor="end" fill="#111" stroke="#111" stroke-width="0.15">1.0</text>
<line x1="421.2" y1="370.8" x2="421.2" y2="373.3" stroke="#111" stroke-width="1.1"/>
<text x="421.9" y="380.6" font-size="6.9" text-anchor="middle" fill="#111" stroke="#111" stroke-width="0.15">0</text>
<line x1="435.37" y1="370.8" x2="435.37" y2="373.3" stroke="#111" stroke-width="1.1"/>
<text x="436.07" y="380.6" font-size="6.9" text-anchor="middle" fill="#111" stroke="#111" stroke-width="0.15">20</text>
<line x1="449.53" y1="370.8" x2="449.53" y2="373.3" stroke="#111" stroke-width="1.1"/>
<text x="450.23" y="380.6" font-size="6.9" text-anchor="middle" fill="#111" stroke="#111" stroke-width="0.15">40</text>
<line x1="463.7" y1="370.8" x2="463.7" y2="373.3" stroke="#111" stroke-width="1.1"/>
<text x="464.4" y="380.6" font-size="6.9" text-anchor="middle" fill="#111" stroke="#111" stroke-width="0.15">60</text>
<line x1="477.87" y1="370.8" x2="477.87" y2="373.3" stroke="#111" stroke-width="1.1"/>
<text x="478.57" y="380.6" font-size="6.9" text-anchor="middle" fill="#111" stroke="#111" stroke-width="0.15">80</text>
<line x1="492.03" y1="370.8" x2="492.03" y2="373.3" stroke="#111" stroke-width="1.1"/>
<text x="492.73" y="380.6" font-size="6.9" text-anchor="middle" fill="#111" stroke="#111" stroke-width="0.15">100</text>
<line x1="506.2" y1="370.8" x2="506.2" y2="373.3" stroke="#111" stroke-width="1.1"/>
<text x="506.9" y="380.6" font-size="6.9" text-anchor="middle" fill="#111" stroke="#111" stroke-width="0.15">120</text>
<polyline points="421.2,280.5 423.5,280.5 423.5,286.2 431.2,286.2 431.2,304.7 438.5,304.7 438.5,317.4 442.2,317.4 442.2,329.6 444.3,329.6 444.3,341.9 446.8,341.9 446.8,365.5" stroke="#999" stroke-width="1.2" fill="none"/>
<polyline points="421.2,280.5 436.9,280.5 436.9,286.5 450.3,286.5 450.3,293.2 500.9,293.2" stroke="#2a2a2a" stroke-width="1.5" fill="none"/>
<circle cx="472.7" cy="293.2" r="1.05" fill="#111"/>
<circle cx="500.9" cy="293.2" r="1.05" fill="#111"/>
<text x="465.75" y="259.9" font-size="10.2" text-anchor="middle" fill="#111">CD34<tspan font-size="5.4" dy="-3.5" stroke="#111" stroke-width="0.2">-</tspan></text>
<text x="466.45" y="269.7" font-size="6.9" text-anchor="middle" fill="#111" textLength="82.7" lengthAdjust="spacing">(placebo n=10,&#160; PTL n=12)</text>
<text x="470.4" y="318.35" font-size="8" text-anchor="start" fill="#111">P=0.0003</text>
<text x="3.8" y="431.4" font-size="13" text-anchor="start" font-weight="bold" fill="#111">D</text>
<text x="273.5" y="431" font-size="13" text-anchor="start" font-weight="bold" fill="#111">E</text>
<line x1="46.4" y1="428.2" x2="46.4" y2="561.1" stroke="#222" stroke-width="1"/>
<line x1="43.2" y1="560.6" x2="248.5" y2="560.6" stroke="#222" stroke-width="1"/>
<line x1="43.2" y1="560.6" x2="46.4" y2="560.6" stroke="#222" stroke-width="0.9"/>
<line x1="44.7" y1="557.96" x2="46.4" y2="557.96" stroke="#444" stroke-width="0.6"/>
<line x1="44.7" y1="555.33" x2="46.4" y2="555.33" stroke="#444" stroke-width="0.6"/>
<line x1="44.7" y1="552.69" x2="46.4" y2="552.69" stroke="#444" stroke-width="0.6"/>
<line x1="44.7" y1="550.06" x2="46.4" y2="550.06" stroke="#444" stroke-width="0.6"/>
<line x1="43.2" y1="547.42" x2="46.4" y2="547.42" stroke="#222" stroke-width="0.9"/>
<line x1="44.7" y1="544.78" x2="46.4" y2="544.78" stroke="#444" stroke-width="0.6"/>
<line x1="44.7" y1="542.15" x2="46.4" y2="542.15" stroke="#444" stroke-width="0.6"/>
<line x1="44.7" y1="539.51" x2="46.4" y2="539.51" stroke="#444" stroke-width="0.6"/>
<line x1="44.7" y1="536.88" x2="46.4" y2="536.88" stroke="#444" stroke-width="0.6"/>
<line x1="43.2" y1="534.24" x2="46.4" y2="534.24" stroke="#222" stroke-width="0.9"/>
<line x1="44.7" y1="531.6" x2="46.4" y2="531.6" stroke="#444" stroke-width="0.6"/>
<line x1="44.7" y1="528.97" x2="46.4" y2="528.97" stroke="#444" stroke-width="0.6"/>
<line x1="44.7" y1="526.33" x2="46.4" y2="526.33" stroke="#444" stroke-width="0.6"/>
<line x1="44.7" y1="523.7" x2="46.4" y2="523.7" stroke="#444" stroke-width="0.6"/>
<line x1="43.2" y1="521.06" x2="46.4" y2="521.06" stroke="#222" stroke-width="0.9"/>
<line x1="44.7" y1="518.42" x2="46.4" y2="518.42" stroke="#444" stroke-width="0.6"/>
<line x1="44.7" y1="515.79" x2="46.4" y2="515.79" stroke="#444" stroke-width="0.6"/>
<line x1="44.7" y1="513.15" x2="46.4" y2="513.15" stroke="#444" stroke-width="0.6"/>
<line x1="44.7" y1="510.52" x2="46.4" y2="510.52" stroke="#444" stroke-width="0.6"/>
<line x1="43.2" y1="507.88" x2="46.4" y2="507.88" stroke="#222" stroke-width="0.9"/>
<line x1="44.7" y1="505.24" x2="46.4" y2="505.24" stroke="#444" stroke-width="0.6"/>
<line x1="44.7" y1="502.61" x2="46.4" y2="502.61" stroke="#444" stroke-width="0.6"/>
<line x1="44.7" y1="499.97" x2="46.4" y2="499.97" stroke="#444" stroke-width="0.6"/>
<line x1="44.7" y1="497.34" x2="46.4" y2="497.34" stroke="#444" stroke-width="0.6"/>
<line x1="43.2" y1="494.7" x2="46.4" y2="494.7" stroke="#222" stroke-width="0.9"/>
<line x1="44.7" y1="492.06" x2="46.4" y2="492.06" stroke="#444" stroke-width="0.6"/>
<line x1="44.7" y1="489.43" x2="46.4" y2="489.43" stroke="#444" stroke-width="0.6"/>
<line x1="44.7" y1="486.79" x2="46.4" y2="486.79" stroke="#444" stroke-width="0.6"/>
<line x1="44.7" y1="484.16" x2="46.4" y2="484.16" stroke="#444" stroke-width="0.6"/>
<line x1="43.2" y1="481.52" x2="46.4" y2="481.52" stroke="#222" stroke-width="0.9"/>
<line x1="44.7" y1="478.88" x2="46.4" y2="478.88" stroke="#444" stroke-width="0.6"/>
<line x1="44.7" y1="476.25" x2="46.4" y2="476.25" stroke="#444" stroke-width="0.6"/>
<line x1="44.7" y1="473.61" x2="46.4" y2="473.61" stroke="#444" stroke-width="0.6"/>
<line x1="44.7" y1="470.98" x2="46.4" y2="470.98" stroke="#444" stroke-width="0.6"/>
<line x1="43.2" y1="468.34" x2="46.4" y2="468.34" stroke="#222" stroke-width="0.9"/>
<line x1="44.7" y1="465.7" x2="46.4" y2="465.7" stroke="#444" stroke-width="0.6"/>
<line x1="44.7" y1="463.07" x2="46.4" y2="463.07" stroke="#444" stroke-width="0.6"/>
<line x1="44.7" y1="460.43" x2="46.4" y2="460.43" stroke="#444" stroke-width="0.6"/>
<line x1="44.7" y1="457.8" x2="46.4" y2="457.8" stroke="#444" stroke-width="0.6"/>
<line x1="43.2" y1="455.16" x2="46.4" y2="455.16" stroke="#222" stroke-width="0.9"/>
<line x1="44.7" y1="452.52" x2="46.4" y2="452.52" stroke="#444" stroke-width="0.6"/>
<line x1="44.7" y1="449.89" x2="46.4" y2="449.89" stroke="#444" stroke-width="0.6"/>
<line x1="44.7" y1="447.25" x2="46.4" y2="447.25" stroke="#444" stroke-width="0.6"/>
<line x1="44.7" y1="444.62" x2="46.4" y2="444.62" stroke="#444" stroke-width="0.6"/>
<line x1="43.2" y1="441.98" x2="46.4" y2="441.98" stroke="#222" stroke-width="0.9"/>
<line x1="44.7" y1="439.34" x2="46.4" y2="439.34" stroke="#444" stroke-width="0.6"/>
<line x1="44.7" y1="436.71" x2="46.4" y2="436.71" stroke="#444" stroke-width="0.6"/>
<line x1="44.7" y1="434.07" x2="46.4" y2="434.07" stroke="#444" stroke-width="0.6"/>
<line x1="44.7" y1="431.44" x2="46.4" y2="431.44" stroke="#444" stroke-width="0.6"/>
<line x1="43.2" y1="428.8" x2="46.4" y2="428.8" stroke="#222" stroke-width="0.9"/>
<text x="41.8" y="563.8" font-size="9" text-anchor="end" fill="#111" stroke="#111" stroke-width="0.12">0</text>
<text x="41.8" y="550.62" font-size="9" text-anchor="end" fill="#111" stroke="#111" stroke-width="0.12">10</text>
<text x="41.8" y="537.44" font-size="9" text-anchor="end" fill="#111" stroke="#111" stroke-width="0.12">20</text>
<text x="41.8" y="524.26" font-size="9" text-anchor="end" fill="#111" stroke="#111" stroke-width="0.12">30</text>
<text x="41.8" y="511.08" font-size="9" text-anchor="end" fill="#111" stroke="#111" stroke-width="0.12">40</text>
<text x="41.8" y="497.9" font-size="9" text-anchor="end" fill="#111" stroke="#111" stroke-width="0.12">50</text>
<text x="41.8" y="484.72" font-size="9" text-anchor="end" fill="#111" stroke="#111" stroke-width="0.12">60</text>
<text x="41.8" y="471.54" font-size="9" text-anchor="end" fill="#111" stroke="#111" stroke-width="0.12">70</text>
<text x="41.8" y="458.36" font-size="9" text-anchor="end" fill="#111" stroke="#111" stroke-width="0.12">80</text>
<text x="41.8" y="445.18" font-size="9" text-anchor="end" fill="#111" stroke="#111" stroke-width="0.12">90</text>
<text x="41.8" y="432" font-size="9" text-anchor="end" fill="#111" stroke="#111" stroke-width="0.12">100</text>
<text x="0" y="0" font-size="10.2" text-anchor="middle" fill="#111" transform="translate(18.3 495.4) rotate(-90)">% ALL cells</text>
<line x1="63.3" y1="560.6" x2="63.3" y2="562.8" stroke="#222" stroke-width="0.9"/>
<line x1="80.4" y1="560.6" x2="80.4" y2="562.8" stroke="#222" stroke-width="0.9"/>
<rect x="61.7" y="423.9" width="3.2" height="3.2" fill="#888"/>
<rect x="61.7" y="425.88" width="3.2" height="3.2" fill="#888"/>
<rect x="61.55" y="427.71" width="3.5" height="3.5" fill="#111"/>
<circle cx="63.3" cy="430.78" r="2.1" fill="#111"/>
<circle cx="63.3" cy="432.36" r="1.85" fill="#fff" stroke="#333" stroke-width="0.85"/>
<circle cx="63.3" cy="436.71" r="2.1" fill="#111"/>
<circle cx="63.3" cy="441.32" r="1.85" fill="#fff" stroke="#333" stroke-width="0.85"/>
<circle cx="63.3" cy="455.16" r="1.85" fill="#fff" stroke="#333" stroke-width="0.85"/>
<circle cx="80.4" cy="553.75" r="2.1" fill="#111"/>
<circle cx="80.4" cy="559.55" r="1.85" fill="#fff" stroke="#333" stroke-width="0.85"/>
<circle cx="80.4" cy="560.07" r="2.1" fill="#111"/>
<line x1="58.7" y1="434.73" x2="67.9" y2="434.73" stroke="#333" stroke-width="1.1"/>
<line x1="75.8" y1="559.41" x2="85" y2="559.41" stroke="#333" stroke-width="1.1"/>
<text x="63.3" y="569.6" font-size="8.3" text-anchor="middle" fill="#111">U</text>
<text x="80.4" y="569.6" font-size="8.3" text-anchor="middle" fill="#111">PTL</text>
<line x1="114" y1="560.6" x2="114" y2="562.8" stroke="#222" stroke-width="0.9"/>
<line x1="131.9" y1="560.6" x2="131.9" y2="562.8" stroke="#222" stroke-width="0.9"/>
<polygon points="112,444.62 115.5,442.92 115.5,446.32" fill="#777"/>
<polygon points="112,456.48 115.5,454.78 115.5,458.18" fill="#777"/>
<circle cx="114" cy="472.95" r="1.85" fill="#fff" stroke="#333" stroke-width="0.85"/>
<circle cx="114" cy="483.5" r="1.85" fill="#fff" stroke="#333" stroke-width="0.85"/>
<circle cx="114" cy="489.43" r="2.1" fill="#111"/>
<circle cx="114" cy="491.41" r="2.1" fill="#111"/>
<circle cx="114" cy="496.94" r="2.1" fill="#111"/>
<circle cx="114" cy="499.58" r="1.85" fill="#fff" stroke="#333" stroke-width="0.85"/>
<circle cx="114" cy="517.63" r="1.85" fill="#fff" stroke="#333" stroke-width="0.85"/>
<circle cx="131.9" cy="560.2" r="2.1" fill="#111"/>
<line x1="109.4" y1="483.63" x2="118.6" y2="483.63" stroke="#333" stroke-width="1.1"/>
<line x1="127.3" y1="560.34" x2="136.5" y2="560.34" stroke="#333" stroke-width="1.1"/>
<text x="114" y="569.6" font-size="8.3" text-anchor="middle" fill="#111">U</text>
<text x="131.9" y="569.6" font-size="8.3" text-anchor="middle" fill="#111">PTL</text>
<line x1="165.8" y1="560.6" x2="165.8" y2="562.8" stroke="#222" stroke-width="0.9"/>
<line x1="182.7" y1="560.6" x2="182.7" y2="562.8" stroke="#222" stroke-width="0.9"/>
<rect x="164.05" y="421.78" width="3.5" height="3.5" fill="#111"/>
<rect x="164.05" y="423.75" width="3.5" height="3.5" fill="#111"/>
<rect x="164.05" y="425.73" width="3.5" height="3.5" fill="#111"/>
<polygon points="163.8,432.1 167.3,430.4 167.3,433.8" fill="#777"/>
<circle cx="165.8" cy="448.17" r="1.85" fill="#fff" stroke="#333" stroke-width="0.85"/>
<polygon points="165.8,458.4 168.1,460.7 165.8,463 163.5,460.7" fill="#fff" stroke="#333" stroke-width="0.85"/>
<polygon points="165.8,474.61 168.1,476.91 165.8,479.21 163.5,476.91" fill="#fff" stroke="#333" stroke-width="0.85"/>
<polygon points="165.8,479.48 168.1,481.78 165.8,484.08 163.5,481.78" fill="#fff" stroke="#333" stroke-width="0.85"/>
<polygon points="165.8,491.87 168.1,494.17 165.8,496.47 163.5,494.17" fill="#fff" stroke="#333" stroke-width="0.85"/>
<polygon points="165.8,495.83 168.1,498.13 165.8,500.43 163.5,498.13" fill="#fff" stroke="#333" stroke-width="0.85"/>
<circle cx="165.8" cy="521.98" r="2.1" fill="#111"/>
<circle cx="165.8" cy="546.76" r="2.1" fill="#111"/>
<rect x="180.95" y="531.04" width="3.5" height="3.5" fill="#111"/>
<circle cx="182.7" cy="559.81" r="2.1" fill="#111"/>
<line x1="161.2" y1="467.02" x2="170.4" y2="467.02" stroke="#333" stroke-width="1.1"/>
<line x1="178.1" y1="558.89" x2="187.3" y2="558.89" stroke="#333" stroke-width="1.1"/>
<text x="165.8" y="569.6" font-size="8.3" text-anchor="middle" fill="#111">U</text>
<text x="182.7" y="569.6" font-size="8.3" text-anchor="middle" fill="#111">PTL</text>
<line x1="216.2" y1="560.6" x2="216.2" y2="562.8" stroke="#222" stroke-width="0.9"/>
<line x1="233.5" y1="560.6" x2="233.5" y2="562.8" stroke="#222" stroke-width="0.9"/>
<rect x="214.45" y="427.05" width="3.5" height="3.5" fill="#111"/>
<rect x="214.45" y="431" width="3.5" height="3.5" fill="#111"/>
<polygon points="216.2,456.81 218.5,459.11 216.2,461.41 213.9,459.11" fill="#fff" stroke="#333" stroke-width="0.85"/>
<polygon points="216.2,463.4 218.5,465.7 216.2,468 213.9,465.7" fill="#fff" stroke="#333" stroke-width="0.85"/>
<polygon points="214.2,508.14 217.7,506.44 217.7,509.84" fill="#777"/>
<polygon points="216.2,514.02 218.5,516.32 216.2,518.62 213.9,516.32" fill="#fff" stroke="#333" stroke-width="0.85"/>
<polygon points="214.2,523.04 217.7,521.34 217.7,524.74" fill="#777"/>
<circle cx="216.2" cy="529.76" r="2.1" fill="#111"/>
<polygon points="216.2,533.26 218.5,535.56 216.2,537.86 213.9,535.56" fill="#fff" stroke="#333" stroke-width="0.85"/>
<circle cx="216.2" cy="539.78" r="2.1" fill="#111"/>
<polygon points="216.2,541.69 218.5,543.99 216.2,546.29 213.9,543.99" fill="#fff" stroke="#333" stroke-width="0.85"/>
<circle cx="233.5" cy="555.06" r="2.1" fill="#111"/>
<circle cx="233.5" cy="559.94" r="2.1" fill="#111"/>
<line x1="211.6" y1="497.34" x2="220.8" y2="497.34" stroke="#333" stroke-width="1.1"/>
<line x1="228.9" y1="559.28" x2="238.1" y2="559.28" stroke="#333" stroke-width="1.1"/>
<text x="216.2" y="569.6" font-size="8.3" text-anchor="middle" fill="#111">U</text>
<text x="233.5" y="569.6" font-size="8.3" text-anchor="middle" fill="#111">PTL</text>
<text x="72.1" y="581" font-size="7.8" text-anchor="middle" fill="#111">Unsorted</text>
<text x="124.7" y="581" font-size="7.8" text-anchor="middle" fill="#111">CD34<tspan font-size="4.5" dy="-3">+</tspan><tspan dy="3">/CD19</tspan><tspan font-size="4.5" dy="-3">+</tspan></text>
<text x="178.9" y="581" font-size="7.8" text-anchor="middle" fill="#111">CD34<tspan font-size="4.5" dy="-3">+</tspan><tspan dy="3">/CD19</tspan><tspan font-size="4.5" dy="-3">-</tspan></text>
<text x="224.5" y="581" font-size="7.8" text-anchor="middle" fill="#111">CD34<tspan font-size="4.5" dy="-3">-</tspan></text>
<text x="70.8" y="422.5" font-size="8.5" text-anchor="middle" font-weight="bold" fill="#111">***</text>
<text x="122.7" y="422.5" font-size="8.5" text-anchor="middle" font-weight="bold" fill="#111">***</text>
<text x="174.1" y="422.5" font-size="8.5" text-anchor="middle" font-weight="bold" fill="#111">***</text>
<text x="224.6" y="422.5" font-size="8.5" text-anchor="middle" font-weight="bold" fill="#111">**</text>
<line x1="313.8" y1="428.8" x2="313.8" y2="561.1" stroke="#222" stroke-width="1"/>
<line x1="310.6" y1="560.6" x2="518.7" y2="560.6" stroke="#222" stroke-width="1"/>
<line x1="310.6" y1="560.6" x2="313.8" y2="560.6" stroke="#222" stroke-width="0.9"/>
<line x1="312.1" y1="557.98" x2="313.8" y2="557.98" stroke="#444" stroke-width="0.6"/>
<line x1="312.1" y1="555.35" x2="313.8" y2="555.35" stroke="#444" stroke-width="0.6"/>
<line x1="312.1" y1="552.73" x2="313.8" y2="552.73" stroke="#444" stroke-width="0.6"/>
<line x1="312.1" y1="550.1" x2="313.8" y2="550.1" stroke="#444" stroke-width="0.6"/>
<line x1="310.6" y1="547.48" x2="313.8" y2="547.48" stroke="#222" stroke-width="0.9"/>
<line x1="312.1" y1="544.86" x2="313.8" y2="544.86" stroke="#444" stroke-width="0.6"/>
<line x1="312.1" y1="542.23" x2="313.8" y2="542.23" stroke="#444" stroke-width="0.6"/>
<line x1="312.1" y1="539.61" x2="313.8" y2="539.61" stroke="#444" stroke-width="0.6"/>
<line x1="312.1" y1="536.98" x2="313.8" y2="536.98" stroke="#444" stroke-width="0.6"/>
<line x1="310.6" y1="534.36" x2="313.8" y2="534.36" stroke="#222" stroke-width="0.9"/>
<line x1="312.1" y1="531.74" x2="313.8" y2="531.74" stroke="#444" stroke-width="0.6"/>
<line x1="312.1" y1="529.11" x2="313.8" y2="529.11" stroke="#444" stroke-width="0.6"/>
<line x1="312.1" y1="526.49" x2="313.8" y2="526.49" stroke="#444" stroke-width="0.6"/>
<line x1="312.1" y1="523.86" x2="313.8" y2="523.86" stroke="#444" stroke-width="0.6"/>
<line x1="310.6" y1="521.24" x2="313.8" y2="521.24" stroke="#222" stroke-width="0.9"/>
<line x1="312.1" y1="518.62" x2="313.8" y2="518.62" stroke="#444" stroke-width="0.6"/>
<line x1="312.1" y1="515.99" x2="313.8" y2="515.99" stroke="#444" stroke-width="0.6"/>
<line x1="312.1" y1="513.37" x2="313.8" y2="513.37" stroke="#444" stroke-width="0.6"/>
<line x1="312.1" y1="510.74" x2="313.8" y2="510.74" stroke="#444" stroke-width="0.6"/>
<line x1="310.6" y1="508.12" x2="313.8" y2="508.12" stroke="#222" stroke-width="0.9"/>
<line x1="312.1" y1="505.5" x2="313.8" y2="505.5" stroke="#444" stroke-width="0.6"/>
<line x1="312.1" y1="502.87" x2="313.8" y2="502.87" stroke="#444" stroke-width="0.6"/>
<line x1="312.1" y1="500.25" x2="313.8" y2="500.25" stroke="#444" stroke-width="0.6"/>
<line x1="312.1" y1="497.62" x2="313.8" y2="497.62" stroke="#444" stroke-width="0.6"/>
<line x1="310.6" y1="495" x2="313.8" y2="495" stroke="#222" stroke-width="0.9"/>
<line x1="312.1" y1="492.38" x2="313.8" y2="492.38" stroke="#444" stroke-width="0.6"/>
<line x1="312.1" y1="489.75" x2="313.8" y2="489.75" stroke="#444" stroke-width="0.6"/>
<line x1="312.1" y1="487.13" x2="313.8" y2="487.13" stroke="#444" stroke-width="0.6"/>
<line x1="312.1" y1="484.5" x2="313.8" y2="484.5" stroke="#444" stroke-width="0.6"/>
<line x1="310.6" y1="481.88" x2="313.8" y2="481.88" stroke="#222" stroke-width="0.9"/>
<line x1="312.1" y1="479.26" x2="313.8" y2="479.26" stroke="#444" stroke-width="0.6"/>
<line x1="312.1" y1="476.63" x2="313.8" y2="476.63" stroke="#444" stroke-width="0.6"/>
<line x1="312.1" y1="474.01" x2="313.8" y2="474.01" stroke="#444" stroke-width="0.6"/>
<line x1="312.1" y1="471.38" x2="313.8" y2="471.38" stroke="#444" stroke-width="0.6"/>
<line x1="310.6" y1="468.76" x2="313.8" y2="468.76" stroke="#222" stroke-width="0.9"/>
<line x1="312.1" y1="466.14" x2="313.8" y2="466.14" stroke="#444" stroke-width="0.6"/>
<line x1="312.1" y1="463.51" x2="313.8" y2="463.51" stroke="#444" stroke-width="0.6"/>
<line x1="312.1" y1="460.89" x2="313.8" y2="460.89" stroke="#444" stroke-width="0.6"/>
<line x1="312.1" y1="458.26" x2="313.8" y2="458.26" stroke="#444" stroke-width="0.6"/>
<line x1="310.6" y1="455.64" x2="313.8" y2="455.64" stroke="#222" stroke-width="0.9"/>
<line x1="312.1" y1="453.02" x2="313.8" y2="453.02" stroke="#444" stroke-width="0.6"/>
<line x1="312.1" y1="450.39" x2="313.8" y2="450.39" stroke="#444" stroke-width="0.6"/>
<line x1="312.1" y1="447.77" x2="313.8" y2="447.77" stroke="#444" stroke-width="0.6"/>
<line x1="312.1" y1="445.14" x2="313.8" y2="445.14" stroke="#444" stroke-width="0.6"/>
<line x1="310.6" y1="442.52" x2="313.8" y2="442.52" stroke="#222" stroke-width="0.9"/>
<line x1="312.1" y1="439.9" x2="313.8" y2="439.9" stroke="#444" stroke-width="0.6"/>
<line x1="312.1" y1="437.27" x2="313.8" y2="437.27" stroke="#444" stroke-width="0.6"/>
<line x1="312.1" y1="434.65" x2="313.8" y2="434.65" stroke="#444" stroke-width="0.6"/>
<line x1="312.1" y1="432.02" x2="313.8" y2="432.02" stroke="#444" stroke-width="0.6"/>
<line x1="310.6" y1="429.4" x2="313.8" y2="429.4" stroke="#222" stroke-width="0.9"/>
<text x="309.6" y="563.8" font-size="9" text-anchor="end" fill="#111" stroke="#111" stroke-width="0.12">0</text>
<text x="309.6" y="550.68" font-size="9" text-anchor="end" fill="#111" stroke="#111" stroke-width="0.12">10</text>
<text x="309.6" y="537.56" font-size="9" text-anchor="end" fill="#111" stroke="#111" stroke-width="0.12">20</text>
<text x="309.6" y="524.44" font-size="9" text-anchor="end" fill="#111" stroke="#111" stroke-width="0.12">30</text>
<text x="309.6" y="511.32" font-size="9" text-anchor="end" fill="#111" stroke="#111" stroke-width="0.12">40</text>
<text x="309.6" y="498.2" font-size="9" text-anchor="end" fill="#111" stroke="#111" stroke-width="0.12">50</text>
<text x="309.6" y="485.08" font-size="9" text-anchor="end" fill="#111" stroke="#111" stroke-width="0.12">60</text>
<text x="309.6" y="471.96" font-size="9" text-anchor="end" fill="#111" stroke="#111" stroke-width="0.12">70</text>
<text x="309.6" y="458.84" font-size="9" text-anchor="end" fill="#111" stroke="#111" stroke-width="0.12">80</text>
<text x="309.6" y="445.72" font-size="9" text-anchor="end" fill="#111" stroke="#111" stroke-width="0.12">90</text>
<text x="309.6" y="432.6" font-size="9" text-anchor="end" fill="#111" stroke="#111" stroke-width="0.12">100</text>
<text x="0" y="0" font-size="10.2" text-anchor="middle" fill="#111" transform="translate(287.8 494.6) rotate(-90)">% ALL cells</text>
<line x1="331.6" y1="560.6" x2="331.6" y2="562.8" stroke="#222" stroke-width="0.9"/>
<line x1="348.3" y1="560.6" x2="348.3" y2="562.8" stroke="#222" stroke-width="0.9"/>
<rect x="329.85" y="430.27" width="3.5" height="3.5" fill="#111"/>
<rect x="330" y="432.39" width="3.2" height="3.2" fill="#999" stroke="#777" stroke-width="0.5"/>
<circle cx="331.6" cy="435.96" r="1.65" fill="#fff" stroke="#999" stroke-width="0.85"/>
<circle cx="331.6" cy="438.58" r="1.65" fill="#fff" stroke="#999" stroke-width="0.85"/>
<circle cx="331.6" cy="440.55" r="1.65" fill="#fff" stroke="#999" stroke-width="0.85"/>
<polygon points="331.6,443.7 333.7,445.8 333,447.2 330.2,447.2 329.5,445.8" fill="#111"/>
<polygon points="331.6,446.32 333.7,448.42 333,449.82 330.2,449.82 329.5,448.42" fill="#111"/>
<polygon points="331.6,457.78 329.9,460.88 333.3,460.88" fill="#bbb" stroke="#999" stroke-width="0.7"/>
<polygon points="331.6,472.21 329.9,475.31 333.3,475.31" fill="#bbb" stroke="#999" stroke-width="0.7"/>
<circle cx="348.3" cy="560.21" r="2.1" fill="#111"/>
<line x1="327" y1="443.18" x2="336.2" y2="443.18" stroke="#333" stroke-width="1.1"/>
<line x1="343.7" y1="560.21" x2="352.9" y2="560.21" stroke="#333" stroke-width="1.1"/>
<text x="331.6" y="569.6" font-size="8.3" text-anchor="middle" fill="#111">U</text>
<text x="348.3" y="569.6" font-size="8.3" text-anchor="middle" fill="#111">PTL</text>
<line x1="382.1" y1="560.6" x2="382.1" y2="562.8" stroke="#222" stroke-width="0.9"/>
<line x1="399.4" y1="560.6" x2="399.4" y2="562.8" stroke="#222" stroke-width="0.9"/>
<rect x="380.5" y="439.61" width="3.2" height="3.2" fill="#999" stroke="#777" stroke-width="0.5"/>
<polygon points="382.1,447.28 380.4,450.38 383.8,450.38" fill="#bbb" stroke="#999" stroke-width="0.7"/>
<circle cx="382.1" cy="451.7" r="1.65" fill="#fff" stroke="#999" stroke-width="0.85"/>
<circle cx="382.1" cy="454.33" r="1.65" fill="#fff" stroke="#999" stroke-width="0.85"/>
<polygon points="380,483.66 384.2,483.66 382.1,487.06" fill="#222"/>
<polygon points="380,499.4 384.2,499.4 382.1,502.8" fill="#222"/>
<polygon points="382.1,514.55 384.2,516.65 383.5,518.05 380.7,518.05 380,516.65" fill="#111"/>
<polygon points="382.1,526.75 384.2,528.85 383.5,530.25 380.7,530.25 380,528.85" fill="#111"/>
<circle cx="399.4" cy="560.21" r="2.1" fill="#111"/>
<line x1="377.5" y1="473.61" x2="386.7" y2="473.61" stroke="#333" stroke-width="1.1"/>
<line x1="394.8" y1="560.21" x2="404" y2="560.21" stroke="#333" stroke-width="1.1"/>
<text x="382.1" y="569.6" font-size="8.3" text-anchor="middle" fill="#111">U</text>
<text x="399.4" y="569.6" font-size="8.3" text-anchor="middle" fill="#111">PTL</text>
<line x1="433.1" y1="560.6" x2="433.1" y2="562.8" stroke="#222" stroke-width="0.9"/>
<line x1="450.9" y1="560.6" x2="450.9" y2="562.8" stroke="#222" stroke-width="0.9"/>
<polygon points="431,435.77 435.2,435.77 433.1,439.17" fill="#222"/>
<polygon points="431,443.64 435.2,443.64 433.1,447.04" fill="#222"/>
<polygon points="433.1,450.26 435.2,452.36 434.5,453.76 431.7,453.76 431,452.36" fill="#111"/>
<polygon points="433.1,456.16 435.2,458.26 434.5,459.66 431.7,459.66 431,458.26" fill="#111"/>
<polygon points="433.1,467.32 435.2,469.42 434.5,470.82 431.7,470.82 431,469.42" fill="#111"/>
<polygon points="433.1,479.42 431.4,482.52 434.8,482.52" fill="#bbb" stroke="#999" stroke-width="0.7"/>
<polygon points="433.1,487.95 431.4,491.05 434.8,491.05" fill="#bbb" stroke="#999" stroke-width="0.7"/>
<circle cx="433.1" cy="512.97" r="1.65" fill="#fff" stroke="#999" stroke-width="0.85"/>
<circle cx="433.1" cy="527.41" r="1.65" fill="#fff" stroke="#999" stroke-width="0.85"/>
<polygon points="450.9,542.23 453,544.33 452.3,545.73 449.5,545.73 448.8,544.33" fill="#111"/>
<circle cx="450.9" cy="559.81" r="2.1" fill="#111"/>
<line x1="428.5" y1="473.35" x2="437.7" y2="473.35" stroke="#333" stroke-width="1.1"/>
<line x1="446.3" y1="559.03" x2="455.5" y2="559.03" stroke="#333" stroke-width="1.1"/>
<text x="433.1" y="569.6" font-size="8.3" text-anchor="middle" fill="#111">U</text>
<text x="450.9" y="569.6" font-size="8.3" text-anchor="middle" fill="#111">PTL</text>
<line x1="484.2" y1="560.6" x2="484.2" y2="562.8" stroke="#222" stroke-width="0.9"/>
<line x1="502.6" y1="560.6" x2="502.6" y2="562.8" stroke="#222" stroke-width="0.9"/>
<circle cx="484.2" cy="432.68" r="2.1" fill="#111"/>
<circle cx="484.2" cy="436.22" r="1.65" fill="#fff" stroke="#999" stroke-width="0.85"/>
<circle cx="484.2" cy="441.21" r="1.65" fill="#fff" stroke="#999" stroke-width="0.85"/>
<circle cx="484.2" cy="443.83" r="1.65" fill="#fff" stroke="#999" stroke-width="0.85"/>
<polygon points="484.2,445.67 486.3,447.77 485.6,449.17 482.8,449.17 482.1,447.77" fill="#111"/>
<polygon points="484.2,506.84 482.5,509.94 485.9,509.94" fill="#bbb" stroke="#999" stroke-width="0.7"/>
<polygon points="484.2,514.85 482.5,517.95 485.9,517.95" fill="#bbb" stroke="#999" stroke-width="0.7"/>
<polygon points="484.2,521.28 482.5,524.38 485.9,524.38" fill="#bbb" stroke="#999" stroke-width="0.7"/>
<polygon points="502.6,534.1 504.7,536.2 504,537.6 501.2,537.6 500.5,536.2" fill="#111"/>
<rect x="501" y="537.75" width="3.2" height="3.2" fill="#888"/>
<circle cx="502.6" cy="559.81" r="2.1" fill="#111"/>
<line x1="479.6" y1="458.26" x2="488.8" y2="458.26" stroke="#333" stroke-width="1.1"/>
<line x1="498" y1="556.66" x2="507.2" y2="556.66" stroke="#333" stroke-width="1.1"/>
<text x="484.2" y="569.6" font-size="8.3" text-anchor="middle" fill="#111">U</text>
<text x="502.6" y="569.6" font-size="8.3" text-anchor="middle" fill="#111">PTL</text>
<text x="341.7" y="581" font-size="7.8" text-anchor="middle" fill="#111">Unsorted</text>
<text x="392.4" y="581" font-size="7.8" text-anchor="middle" fill="#111">CD34<tspan font-size="4.5" dy="-3">+</tspan><tspan dy="3">/CD7</tspan><tspan font-size="4.5" dy="-3">+</tspan></text>
<text x="444.2" y="581" font-size="7.8" text-anchor="middle" fill="#111">CD34<tspan font-size="4.5" dy="-3">+</tspan><tspan dy="3">/CD7</tspan><tspan font-size="4.5" dy="-3">-</tspan></text>
<text x="494.5" y="581" font-size="7.8" text-anchor="middle" fill="#111">CD34<tspan font-size="4.5" dy="-3">-</tspan></text>
<text x="339.4" y="424.8" font-size="8.5" text-anchor="middle" font-weight="bold" fill="#111">***</text>
<text x="391.4" y="424.8" font-size="8.5" text-anchor="middle" font-weight="bold" fill="#111">***</text>
<text x="442.7" y="424.8" font-size="8.5" text-anchor="middle" font-weight="bold" fill="#111">***</text>
<text x="493.6" y="424.8" font-size="8.5" text-anchor="middle" font-weight="bold" fill="#111">***</text>
<text x="3.6" y="600" font-size="13" text-anchor="start" font-weight="bold" fill="#111">F</text>
<line x1="32.2" y1="606.6" x2="64.5" y2="606.6" stroke="#222" stroke-width="1.1"/>
<line x1="32.2" y1="606" x2="32.2" y2="612.2" stroke="#222" stroke-width="1.1"/>
<text x="71.6" y="611.8" font-size="11" text-anchor="start" fill="#111">PTL-treated</text>
<line x1="135.7" y1="606.8" x2="169.4" y2="606.8" stroke="#222" stroke-width="1.1"/>
<line x1="169.4" y1="606.2" x2="169.4" y2="611.8" stroke="#222" stroke-width="1.1"/>
<line x1="201.9" y1="607" x2="286.2" y2="607" stroke="#222" stroke-width="1.1"/>
<line x1="201.9" y1="606.4" x2="201.9" y2="613.8" stroke="#222" stroke-width="1.1"/>
<text x="291.3" y="612" font-size="11" text-anchor="start" fill="#111">Untreated</text>
<line x1="344.5" y1="607.1" x2="417.5" y2="607.1" stroke="#222" stroke-width="1.1"/>
<line x1="417.5" y1="606.5" x2="417.5" y2="614" stroke="#222" stroke-width="1.1"/>
<rect x="30.4" y="615.8" width="63.7" height="54.8" fill="#fff" stroke="#aaa" stroke-width="0.8"/>
<line x1="46.2" y1="615.8" x2="46.2" y2="670.6" stroke="#888" stroke-width="0.9"/>
<line x1="30.4" y1="656.8" x2="94.1" y2="656.8" stroke="#888" stroke-width="0.9"/>
<line x1="28.6" y1="615.8" x2="30.4" y2="615.8" stroke="#999" stroke-width="0.6"/>
<line x1="28.6" y1="629.47" x2="30.4" y2="629.47" stroke="#999" stroke-width="0.6"/>
<line x1="28.6" y1="643.13" x2="30.4" y2="643.13" stroke="#999" stroke-width="0.6"/>
<line x1="28.6" y1="656.8" x2="30.4" y2="656.8" stroke="#999" stroke-width="0.6"/>
<text x="0" y="0" font-size="6.7" text-anchor="middle" font-weight="bold" fill="#111" stroke="#111" stroke-width="0.2" transform="translate(21.8 639.5) rotate(-90)">huCD19-PE</text>
<text x="62.5" y="680.6" font-size="7" text-anchor="middle" font-weight="bold" fill="#111" stroke="#111" stroke-width="0.2">huCD45-FITC</text>
<path d="M33.5 657.5 L42.5 657.5 C45 658.5 46 661.5 45.9 664 C45.7 667 44 669.3 41 669.4 L33.5 669.4 C32.1 669.4 31.4 668.5 31.4 667 L31.4 659.8 C31.4 658.3 32.1 657.5 33.5 657.5 Z" stroke="#2a2a2a" stroke-width="1.2" fill="#fff" stroke-dasharray="2 0.6"/>
<ellipse cx="38" cy="663.6" rx="6.5" ry="4.5" fill="#fff" stroke="#999" stroke-width="0.7"/>
<ellipse cx="37.5" cy="663.8" rx="6" ry="3.7" fill="#4a4a4a"/>
<rect x="107.4" y="616.3" width="62" height="53.1" fill="#fff" stroke="#aaa" stroke-width="0.8"/>
<path d="M108.1 669.4 L108.9 661 L110.3 659.3 L111.6 648.8 L113.3 645.3 L115.3 632.1 L117.3 640.9 L118.6 650.5 L119.4 664.5 L121.2 666.3 L122.1 669.4 Z" stroke="none" stroke-width="1" fill="#0a0a0a"/>
<path d="M131.3 669.4 L133 663.7 L134.3 652.3 L134.8 640.9 L135.6 616.4 L136.5 640.9 L138.3 654 L140 661 L141.8 664.5 L143.5 669.4 Z" stroke="none" stroke-width="1" fill="#6a6a6a"/>
<line x1="107.4" y1="669.4" x2="169.4" y2="669.4" stroke="#333" stroke-width="0.8"/>
<text x="136.8" y="680.6" font-size="7.2" text-anchor="middle" font-weight="bold" fill="#111" stroke="#111" stroke-width="0.2">Murine CD45-FITC</text>
<rect x="202.4" y="616.8" width="64.1" height="53.6" fill="#fff" stroke="#aaa" stroke-width="0.8"/>
<line x1="218.9" y1="616.8" x2="218.9" y2="670.4" stroke="#888" stroke-width="0.9"/>
<line x1="202.4" y1="657.4" x2="266.5" y2="657.4" stroke="#888" stroke-width="0.9"/>
<line x1="200.6" y1="616.8" x2="202.4" y2="616.8" stroke="#999" stroke-width="0.6"/>
<line x1="200.6" y1="630.33" x2="202.4" y2="630.33" stroke="#999" stroke-width="0.6"/>
<line x1="200.6" y1="643.87" x2="202.4" y2="643.87" stroke="#999" stroke-width="0.6"/>
<line x1="200.6" y1="657.4" x2="202.4" y2="657.4" stroke="#999" stroke-width="0.6"/>
<text x="0" y="0" font-size="6.7" text-anchor="middle" font-weight="bold" fill="#111" stroke="#111" stroke-width="0.2" transform="translate(196.2 638) rotate(-90)">huCD19-PE</text>
<text x="234.6" y="680.6" font-size="7" text-anchor="middle" font-weight="bold" fill="#111" stroke="#111" stroke-width="0.2">huCD45-FITC</text>
<path d="M236.5 643.7 C238.5 643.2 241 643.5 241.7 645.8 C241.6 647.5 241 648.5 240.5 649.5 C239.8 651.5 239.5 653 239.2 654.5 C238.9 656.5 238.8 658 238.3 659.4 C237.8 660.8 237.4 661.6 237 662.5 C236.6 663.6 236.2 664.2 235.8 664.3 C235 664.8 234.6 664.8 234 664.6 C233.2 664.2 232.6 663.6 232.2 663.1 C231.6 661.8 231 660.6 230.3 660 C229.6 659.4 229 659.2 228.5 659.4 C227.8 660 227.2 660.5 226.6 660.6 C225.8 660.7 225.2 660.6 224.8 660.3 C223.8 659.6 223.4 659 223.5 658.2 C223.5 656.8 223.8 655.8 224.2 655.1 C225 654.2 225.8 653.8 226.6 653.2 C227.8 652 228.8 650.6 229.7 649.5 C230.6 648.4 231.4 647.4 232.2 646.5 C233.6 645 235 644.1 236.5 643.7 Z" stroke="#1e1e1e" stroke-width="1.25" fill="#fff"/>
<path d="M236.2 644.7 C238.2 644.3 240 644.8 240.3 646.5 C240.2 649.5 239 653.5 238.2 657.5 C237.6 660 236.5 662.3 234.8 662.4 C233.2 662.2 232.2 660.2 231.3 658.4 C230.4 656.6 229.8 655 229.6 653 C229.6 651 230.6 649 232 647.3 C233.2 645.8 234.6 645 236.2 644.7 Z" stroke="#888" stroke-width="0.6" fill="#fff"/>
<path d="M232.8 646.2 C234.5 645.4 236.5 645 237.7 645.2 C238.6 646 238.8 647 238.6 648.3 C238.4 650.5 238.1 652.5 237.7 654.5 C237.2 656 236.6 657.3 235.8 658.2 C235 658.5 234 658.2 233.4 657.5 C232.4 656.4 231.6 655 231.2 653.8 C230.9 652.2 230.9 650.6 231.2 649.5 C231.5 648.2 232 647 232.8 646.2 Z" stroke="none" stroke-width="1" fill="#4a4a4a"/>
<path d="M207.5 664 l2 -1.5 l-0.8 2.5 l1.8 1" stroke="#333" stroke-width="0.8" fill="none"/>
<rect x="284.8" y="616.8" width="62" height="53.2" fill="#fff" stroke="#aaa" stroke-width="0.8"/>
<line x1="300.7" y1="616.8" x2="300.7" y2="670" stroke="#888" stroke-width="0.9"/>
<line x1="284.8" y1="656.5" x2="346.8" y2="656.5" stroke="#888" stroke-width="0.9"/>
<line x1="283" y1="616.8" x2="284.8" y2="616.8" stroke="#999" stroke-width="0.6"/>
<line x1="283" y1="630.03" x2="284.8" y2="630.03" stroke="#999" stroke-width="0.6"/>
<line x1="283" y1="643.27" x2="284.8" y2="643.27" stroke="#999" stroke-width="0.6"/>
<line x1="283" y1="656.5" x2="284.8" y2="656.5" stroke="#999" stroke-width="0.6"/>
<text x="0" y="0" font-size="6.7" text-anchor="middle" font-weight="bold" fill="#111" stroke="#111" stroke-width="0.2" transform="translate(278.2 637.5) rotate(-90)">huCD34-PE</text>
<text x="316" y="680.6" font-size="7" text-anchor="middle" font-weight="bold" fill="#111" stroke="#111" stroke-width="0.2">huCD10-FITC</text>
<path d="M286.8 650.8 C286.6 647.6 291 645.2 299 644.9 C305.5 644.7 311 645 312.8 646.8 C314 648.3 314.2 651.5 313.2 653.6 C311.8 656 307 656.8 300 656.8 C293 656.8 287.2 654.8 286.8 650.8 Z" stroke="#1e1e1e" stroke-width="1.25" fill="#fff" stroke-dasharray="2.2 0.5"/>
<path d="M288.6 650.7 C288.6 648 293.5 646.3 300 646.2 C306 646.1 311.2 647.2 311.6 650.2 C311.8 653.2 307 655 300.5 655 C294 655 288.6 653.6 288.6 650.7 Z" stroke="#999" stroke-width="0.6" fill="#fff"/>
<ellipse cx="300.3" cy="650.5" rx="9.2" ry="3.3" fill="#4a4a4a"/>
<path d="M289.6 660.5 l1.6 0.5 l-1 2.2 l1.8 1 M311.6 660.8 l1.8 1.2 l-1.2 1.6 l1.2 1" stroke="#222" stroke-width="0.8" fill="none"/>
<rect x="354.7" y="616.6" width="64" height="52.8" fill="#fff" stroke="#aaa" stroke-width="0.8"/>
<path d="M355.2 669.4 L357.3 660.8 L359.9 638.3 L362.5 617.2 L363.4 617.2 L364.2 629.6 L366 647 L367.7 660.8 L370.8 669.4 Z" stroke="none" stroke-width="1" fill="#6a6a6a"/>
<line x1="354.7" y1="669.4" x2="418.7" y2="669.4" stroke="#333" stroke-width="0.8"/>
<text x="386.3" y="681" font-size="7.2" text-anchor="middle" font-weight="bold" fill="#111" stroke="#111" stroke-width="0.2">Murine CD45-FITC</text>
<defs><linearGradient id="pg" x1="0" y1="0" x2="1" y2="0"><stop offset="0" stop-color="#dadada"/><stop offset="0.5" stop-color="#e4e4e4"/><stop offset="1" stop-color="#dedede"/></linearGradient></defs>
<rect x="434.3" y="617.3" width="66.6" height="54.4" fill="url(#pg)"/>
<rect x="434.3" y="651.5" width="66.6" height="5.8" fill="#ececec"/>
<rect x="434.3" y="657.3" width="66.6" height="7.2" fill="#e2e2e2"/>
<rect x="434.3" y="664.5" width="66.6" height="7.2" fill="#d6d6d6"/>
<line x1="434.9" y1="657.5" x2="434.9" y2="664.5" stroke="#666" stroke-width="0.75"/>
<line x1="436.5" y1="657.5" x2="436.5" y2="662.1" stroke="#666" stroke-width="0.75"/>
<line x1="438.1" y1="657.5" x2="438.1" y2="662.1" stroke="#666" stroke-width="0.75"/>
<line x1="439.7" y1="657.5" x2="439.7" y2="662.1" stroke="#666" stroke-width="0.75"/>
<line x1="441.3" y1="657.5" x2="441.3" y2="662.1" stroke="#666" stroke-width="0.75"/>
<line x1="442.9" y1="657.5" x2="442.9" y2="663.1" stroke="#666" stroke-width="0.75"/>
<line x1="444.5" y1="657.5" x2="444.5" y2="662.1" stroke="#666" stroke-width="0.75"/>
<line x1="446.1" y1="657.5" x2="446.1" y2="662.1" stroke="#666" stroke-width="0.75"/>
<line x1="447.7" y1="657.5" x2="447.7" y2="662.1" stroke="#666" stroke-width="0.75"/>
<line x1="449.3" y1="657.5" x2="449.3" y2="662.1" stroke="#666" stroke-width="0.75"/>
<line x1="450.9" y1="657.5" x2="450.9" y2="664.5" stroke="#666" stroke-width="0.75"/>
<line x1="452.5" y1="657.5" x2="452.5" y2="662.1" stroke="#666" stroke-width="0.75"/>
<line x1="454.1" y1="657.5" x2="454.1" y2="662.1" stroke="#666" stroke-width="0.75"/>
<line x1="455.7" y1="657.5" x2="455.7" y2="662.1" stroke="#666" stroke-width="0.75"/>
<line x1="457.3" y1="657.5" x2="457.3" y2="662.1" stroke="#666" stroke-width="0.75"/>
<line x1="458.9" y1="657.5" x2="458.9" y2="663.1" stroke="#666" stroke-width="0.75"/>
<line x1="460.5" y1="657.5" x2="460.5" y2="662.1" stroke="#666" stroke-width="0.75"/>
<line x1="462.1" y1="657.5" x2="462.1" y2="662.1" stroke="#666" stroke-width="0.75"/>
<line x1="463.7" y1="657.5" x2="463.7" y2="662.1" stroke="#666" stroke-width="0.75"/>
<line x1="465.3" y1="657.5" x2="465.3" y2="662.1" stroke="#666" stroke-width="0.75"/>
<line x1="466.9" y1="657.5" x2="466.9" y2="664.5" stroke="#666" stroke-width="0.75"/>
<line x1="468.5" y1="657.5" x2="468.5" y2="662.1" stroke="#666" stroke-width="0.75"/>
<line x1="470.1" y1="657.5" x2="470.1" y2="662.1" stroke="#666" stroke-width="0.75"/>
<line x1="471.7" y1="657.5" x2="471.7" y2="662.1" stroke="#666" stroke-width="0.75"/>
<line x1="473.3" y1="657.5" x2="473.3" y2="662.1" stroke="#666" stroke-width="0.75"/>
<line x1="474.9" y1="657.5" x2="474.9" y2="663.1" stroke="#666" stroke-width="0.75"/>
<line x1="476.5" y1="657.5" x2="476.5" y2="662.1" stroke="#666" stroke-width="0.75"/>
<line x1="478.1" y1="657.5" x2="478.1" y2="662.1" stroke="#666" stroke-width="0.75"/>
<line x1="479.7" y1="657.5" x2="479.7" y2="662.1" stroke="#666" stroke-width="0.75"/>
<line x1="481.3" y1="657.5" x2="481.3" y2="662.1" stroke="#666" stroke-width="0.75"/>
<line x1="482.9" y1="657.5" x2="482.9" y2="664.5" stroke="#666" stroke-width="0.75"/>
<line x1="484.5" y1="657.5" x2="484.5" y2="662.1" stroke="#666" stroke-width="0.75"/>
<line x1="486.1" y1="657.5" x2="486.1" y2="662.1" stroke="#666" stroke-width="0.75"/>
<line x1="487.7" y1="657.5" x2="487.7" y2="662.1" stroke="#666" stroke-width="0.75"/>
<line x1="489.3" y1="657.5" x2="489.3" y2="662.1" stroke="#666" stroke-width="0.75"/>
<line x1="490.9" y1="657.5" x2="490.9" y2="663.1" stroke="#666" stroke-width="0.75"/>
<line x1="492.5" y1="657.5" x2="492.5" y2="662.1" stroke="#666" stroke-width="0.75"/>
<line x1="494.1" y1="657.5" x2="494.1" y2="662.1" stroke="#666" stroke-width="0.75"/>
<line x1="495.7" y1="657.5" x2="495.7" y2="662.1" stroke="#666" stroke-width="0.75"/>
<line x1="497.3" y1="657.5" x2="497.3" y2="662.1" stroke="#666" stroke-width="0.75"/>
<line x1="498.9" y1="657.5" x2="498.9" y2="664.5" stroke="#666" stroke-width="0.75"/>
<line x1="500.5" y1="657.5" x2="500.5" y2="662.1" stroke="#666" stroke-width="0.75"/>
<text x="448.6" y="671.2" font-size="7" text-anchor="middle" font-weight="bold" fill="#222">1</text>
<text x="464.5" y="671.2" font-size="7" text-anchor="middle" font-weight="bold" fill="#222">2</text>
<text x="480.5" y="671.2" font-size="7" text-anchor="middle" font-weight="bold" fill="#222">3</text>
<text x="496.4" y="671.2" font-size="7" text-anchor="middle" font-weight="bold" fill="#222">4</text>
<rect x="436.6" y="665.8" width="3.8" height="1.3" fill="#444"/>
<rect x="436.6" y="668.4" width="3.8" height="1.3" fill="#444"/>
<path d="M451.6 634.8 C454.5 635 456.8 638.5 456.8 642 C456.8 646 454.5 649.6 452.6 649.6 C451 649.6 450.7 646.5 450.9 643 C451 640 450.6 635 451.6 634.8 Z" stroke="none" stroke-width="1" fill="#262626"/>
<path d="M485 621.8 C489.5 623 493.5 629 493.2 636 C492.8 643 488.5 649.5 483.5 651 C481 651.6 479.8 650 480.4 647.5 C481.5 643 482.2 638 482.2 632 C482.2 627 482.8 622 485 621.8 Z" stroke="none" stroke-width="1" fill="#1e1e1e"/>
<text x="452.5" y="612.2" font-size="9.4" text-anchor="middle" fill="#111">PTL</text>
<text x="486.3" y="612.2" font-size="9.4" text-anchor="middle" fill="#111">U</text>
</svg>
</body></html>
